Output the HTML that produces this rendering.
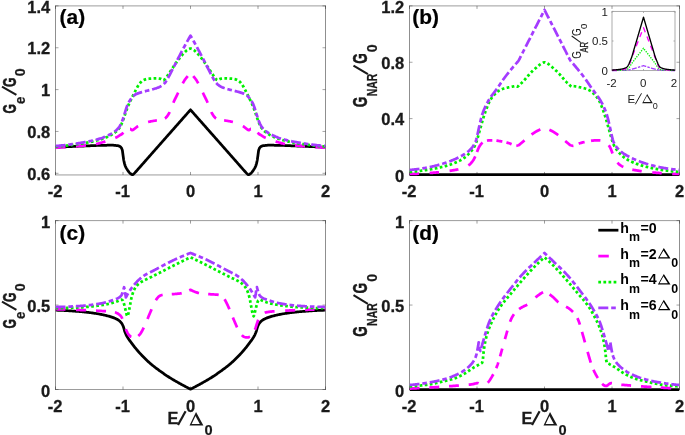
<!DOCTYPE html>
<html>
<head>
<meta charset="utf-8">
<title>Conductance spectra</title>
<style>
html,body{margin:0;padding:0;background:#ffffff;}
body{width:685px;height:435px;overflow:hidden;font-family:"Liberation Sans",sans-serif;}
svg{display:block;will-change:transform;transform:translateZ(0);}
</style>
</head>
<body>
<svg width="685" height="435" viewBox="0 0 685 435">
<rect width="685" height="435" fill="#ffffff"/>
<defs>
<clipPath id="ca"><rect x="55.5" y="5.9" width="270.0" height="170.64999999999998"/></clipPath>
<clipPath id="cb"><rect x="409.5" y="5.9" width="270.0" height="170.64999999999998"/></clipPath>
<clipPath id="cc"><rect x="55.5" y="220.6" width="270.0" height="170.5"/></clipPath>
<clipPath id="cd"><rect x="409.5" y="220.6" width="270.0" height="170.5"/></clipPath>
</defs>
<g stroke="#262626" fill="none">
<path d="M55.5,5.65 V175.2 M325.5,5.65 V175.2" stroke-width="0.52"/>
<path d="M55.25,5.9 H325.75 M55.25,174.95 H325.75" stroke-width="0.46"/>
<path d="M55.5,174.95 v-3.0 M55.5,5.9 v3.0" stroke-width="0.45"/>
<path d="M123.0,174.95 v-3.0 M123.0,5.9 v3.0" stroke-width="0.45"/>
<path d="M190.5,174.95 v-3.0 M190.5,5.9 v3.0" stroke-width="0.45"/>
<path d="M258.0,174.95 v-3.0 M258.0,5.9 v3.0" stroke-width="0.45"/>
<path d="M325.5,174.95 v-3.0 M325.5,5.9 v3.0" stroke-width="0.45"/>
<path d="M55.5,173.30 h3.0 M325.5,173.30 h-3.0" stroke-width="0.42"/>
<path d="M55.5,131.45 h3.0 M325.5,131.45 h-3.0" stroke-width="0.42"/>
<path d="M55.5,89.60 h3.0 M325.5,89.60 h-3.0" stroke-width="0.42"/>
<path d="M55.5,47.75 h3.0 M325.5,47.75 h-3.0" stroke-width="0.42"/>
<path d="M55.5,5.90 h3.0 M325.5,5.90 h-3.0" stroke-width="0.42"/>
</g>
<g stroke="#262626" fill="none">
<path d="M409.5,5.65 V175.2 M679.5,5.65 V175.2" stroke-width="0.52"/>
<path d="M409.25,5.9 H679.75 M409.25,174.95 H679.75" stroke-width="0.46"/>
<path d="M409.5,174.95 v-3.0 M409.5,5.9 v3.0" stroke-width="0.45"/>
<path d="M477.0,174.95 v-3.0 M477.0,5.9 v3.0" stroke-width="0.45"/>
<path d="M544.5,174.95 v-3.0 M544.5,5.9 v3.0" stroke-width="0.45"/>
<path d="M612.0,174.95 v-3.0 M612.0,5.9 v3.0" stroke-width="0.45"/>
<path d="M679.5,174.95 v-3.0 M679.5,5.9 v3.0" stroke-width="0.45"/>
<path d="M409.5,174.95 h3.0 M679.5,174.95 h-3.0" stroke-width="0.42"/>
<path d="M409.5,118.60 h3.0 M679.5,118.60 h-3.0" stroke-width="0.42"/>
<path d="M409.5,62.25 h3.0 M679.5,62.25 h-3.0" stroke-width="0.42"/>
<path d="M409.5,5.90 h3.0 M679.5,5.90 h-3.0" stroke-width="0.42"/>
</g>
<g stroke="#262626" fill="none">
<path d="M55.5,220.35 V389.75 M325.5,220.35 V389.75" stroke-width="0.52"/>
<path d="M55.25,220.6 H325.75 M55.25,389.5 H325.75" stroke-width="0.46"/>
<path d="M55.5,389.5 v-3.0 M55.5,220.6 v3.0" stroke-width="0.45"/>
<path d="M123.0,389.5 v-3.0 M123.0,220.6 v3.0" stroke-width="0.45"/>
<path d="M190.5,389.5 v-3.0 M190.5,220.6 v3.0" stroke-width="0.45"/>
<path d="M258.0,389.5 v-3.0 M258.0,220.6 v3.0" stroke-width="0.45"/>
<path d="M325.5,389.5 v-3.0 M325.5,220.6 v3.0" stroke-width="0.45"/>
<path d="M55.5,389.50 h3.0 M325.5,389.50 h-3.0" stroke-width="0.42"/>
<path d="M55.5,305.05 h3.0 M325.5,305.05 h-3.0" stroke-width="0.42"/>
<path d="M55.5,220.60 h3.0 M325.5,220.60 h-3.0" stroke-width="0.42"/>
</g>
<g stroke="#262626" fill="none">
<path d="M409.5,220.35 V389.75 M679.5,220.35 V389.75" stroke-width="0.52"/>
<path d="M409.25,220.6 H679.75 M409.25,389.5 H679.75" stroke-width="0.46"/>
<path d="M409.5,389.5 v-3.0 M409.5,220.6 v3.0" stroke-width="0.45"/>
<path d="M477.0,389.5 v-3.0 M477.0,220.6 v3.0" stroke-width="0.45"/>
<path d="M544.5,389.5 v-3.0 M544.5,220.6 v3.0" stroke-width="0.45"/>
<path d="M612.0,389.5 v-3.0 M612.0,220.6 v3.0" stroke-width="0.45"/>
<path d="M679.5,389.5 v-3.0 M679.5,220.6 v3.0" stroke-width="0.45"/>
<path d="M409.5,389.50 h3.0 M679.5,389.50 h-3.0" stroke-width="0.42"/>
<path d="M409.5,305.05 h3.0 M679.5,305.05 h-3.0" stroke-width="0.42"/>
<path d="M409.5,220.60 h3.0 M679.5,220.60 h-3.0" stroke-width="0.42"/>
</g>
<g clip-path="url(#ca)">
<path d="M55.50,147.20 L56.25,147.17 L57.00,147.14 L57.75,147.11 L58.50,147.08 L59.25,147.05 L60.00,147.01 L60.75,146.98 L61.50,146.95 L62.25,146.92 L63.00,146.89 L63.75,146.86 L64.50,146.83 L65.25,146.80 L66.00,146.77 L66.75,146.74 L67.50,146.71 L68.25,146.68 L69.00,146.65 L69.75,146.62 L70.50,146.59 L71.25,146.55 L72.00,146.52 L72.75,146.49 L73.50,146.46 L74.25,146.43 L75.00,146.40 L75.75,146.37 L76.50,146.34 L77.25,146.31 L78.00,146.28 L78.75,146.25 L79.50,146.22 L80.00,146.20 L80.25,146.19 L81.00,146.16 L81.75,146.13 L82.50,146.09 L83.25,146.06 L84.00,146.03 L84.75,145.99 L85.50,145.96 L86.25,145.93 L87.00,145.89 L87.75,145.86 L88.50,145.82 L89.25,145.79 L90.00,145.76 L90.75,145.72 L91.50,145.69 L92.25,145.66 L93.00,145.63 L93.75,145.60 L94.50,145.57 L95.25,145.54 L96.00,145.52 L96.75,145.49 L97.50,145.47 L98.25,145.44 L99.00,145.42 L99.75,145.41 L100.00,145.40 L100.50,145.39 L101.25,145.37 L102.00,145.35 L102.75,145.34 L103.50,145.32 L104.25,145.30 L105.00,145.29 L105.75,145.27 L106.50,145.26 L107.25,145.24 L108.00,145.23 L108.75,145.22 L109.50,145.21 L110.25,145.21 L111.00,145.20 L111.75,145.20 L112.00,145.20 L112.50,145.21 L113.25,145.23 L114.00,145.28 L114.75,145.34 L115.50,145.42 L116.25,145.51 L117.00,145.60 L117.75,145.71 L118.50,145.88 L119.25,146.11 L119.50,146.20 L120.00,146.47 L120.75,147.13 L121.30,147.80 L121.50,148.10 L122.25,149.95 L122.40,150.50 L123.00,155.00 L123.70,160.00 L123.75,160.26 L124.50,163.66 L125.00,165.30 L125.25,165.95 L126.00,167.58 L126.75,168.89 L127.00,169.30 L127.50,170.09 L128.25,171.19 L129.00,172.15 L129.50,172.70 L129.75,172.95 L130.50,173.66 L131.25,174.22 L131.40,174.30 L132.00,174.61 L132.40,174.70 L132.75,174.61 L133.50,174.07 L133.60,174.00 L134.25,173.44 L135.00,172.63 L135.75,171.78 L136.00,171.50 L136.50,170.96 L137.25,170.12 L138.00,169.28 L138.75,168.42 L139.50,167.57 L140.00,167.00 L140.25,166.72 L141.00,165.87 L141.75,165.02 L142.50,164.17 L143.25,163.32 L144.00,162.47 L144.75,161.61 L145.50,160.76 L146.25,159.91 L147.00,159.06 L147.75,158.20 L148.50,157.35 L149.25,156.50 L150.00,155.65 L150.75,154.80 L151.50,153.95 L152.25,153.10 L153.00,152.25 L153.75,151.40 L154.50,150.55 L155.25,149.70 L156.00,148.85 L156.75,148.00 L157.50,147.15 L158.25,146.30 L159.00,145.45 L159.75,144.60 L160.50,143.75 L161.25,142.91 L162.00,142.06 L162.75,141.21 L163.50,140.36 L164.25,139.51 L165.00,138.66 L165.75,137.81 L166.50,136.96 L167.25,136.11 L168.00,135.26 L168.75,134.42 L169.50,133.57 L170.00,133.00 L170.25,132.72 L171.00,131.87 L171.75,131.02 L172.50,130.17 L173.25,129.32 L174.00,128.47 L174.75,127.62 L175.50,126.77 L176.25,125.93 L177.00,125.08 L177.75,124.23 L178.50,123.38 L179.25,122.53 L180.00,121.68 L180.75,120.83 L181.50,119.98 L182.25,119.13 L183.00,118.29 L183.75,117.44 L184.50,116.59 L185.25,115.74 L186.00,114.89 L186.75,114.04 L187.50,113.19 L188.25,112.35 L189.00,111.50 L189.75,110.65 L190.50,109.80 L191.25,110.65 L192.00,111.50 L192.75,112.35 L193.50,113.19 L194.25,114.04 L195.00,114.89 L195.75,115.74 L196.50,116.59 L197.25,117.44 L198.00,118.29 L198.75,119.13 L199.50,119.98 L200.25,120.83 L201.00,121.68 L201.75,122.53 L202.50,123.38 L203.25,124.23 L204.00,125.08 L204.75,125.93 L205.50,126.77 L206.25,127.62 L207.00,128.47 L207.75,129.32 L208.50,130.17 L209.25,131.02 L210.00,131.87 L210.75,132.72 L211.00,133.00 L211.50,133.57 L212.25,134.42 L213.00,135.26 L213.75,136.11 L214.50,136.96 L215.25,137.81 L216.00,138.66 L216.75,139.51 L217.50,140.36 L218.25,141.21 L219.00,142.06 L219.75,142.91 L220.50,143.75 L221.25,144.60 L222.00,145.45 L222.75,146.30 L223.50,147.15 L224.25,148.00 L225.00,148.85 L225.75,149.70 L226.50,150.55 L227.25,151.40 L228.00,152.25 L228.75,153.10 L229.50,153.95 L230.25,154.80 L231.00,155.65 L231.75,156.50 L232.50,157.35 L233.25,158.20 L234.00,159.06 L234.75,159.91 L235.50,160.76 L236.25,161.61 L237.00,162.47 L237.75,163.32 L238.50,164.17 L239.25,165.02 L240.00,165.87 L240.75,166.72 L241.00,167.00 L241.50,167.57 L242.25,168.42 L243.00,169.28 L243.75,170.12 L244.50,170.96 L245.00,171.50 L245.25,171.78 L246.00,172.63 L246.75,173.44 L247.40,174.00 L247.50,174.07 L248.25,174.61 L248.60,174.70 L249.00,174.61 L249.60,174.30 L249.75,174.22 L250.50,173.66 L251.25,172.95 L251.50,172.70 L252.00,172.15 L252.75,171.19 L253.50,170.09 L254.00,169.30 L254.25,168.89 L255.00,167.58 L255.75,165.95 L256.00,165.30 L256.50,163.66 L257.25,160.26 L257.30,160.00 L258.00,155.00 L258.60,150.50 L258.75,149.95 L259.50,148.10 L259.70,147.80 L260.25,147.13 L261.00,146.47 L261.50,146.20 L261.75,146.11 L262.50,145.88 L263.25,145.71 L264.00,145.60 L264.75,145.51 L265.50,145.42 L266.25,145.34 L267.00,145.28 L267.75,145.23 L268.50,145.21 L269.00,145.20 L269.25,145.20 L270.00,145.20 L270.75,145.21 L271.50,145.21 L272.25,145.22 L273.00,145.23 L273.75,145.24 L274.50,145.26 L275.25,145.27 L276.00,145.29 L276.75,145.30 L277.50,145.32 L278.25,145.34 L279.00,145.35 L279.75,145.37 L280.50,145.39 L281.00,145.40 L281.25,145.41 L282.00,145.42 L282.75,145.44 L283.50,145.47 L284.25,145.49 L285.00,145.52 L285.75,145.54 L286.50,145.57 L287.25,145.60 L288.00,145.63 L288.75,145.66 L289.50,145.69 L290.25,145.72 L291.00,145.76 L291.75,145.79 L292.50,145.82 L293.25,145.86 L294.00,145.89 L294.75,145.93 L295.50,145.96 L296.25,145.99 L297.00,146.03 L297.75,146.06 L298.50,146.09 L299.25,146.13 L300.00,146.16 L300.75,146.19 L301.00,146.20 L301.50,146.22 L302.25,146.25 L303.00,146.28 L303.75,146.31 L304.50,146.34 L305.25,146.37 L306.00,146.40 L306.75,146.43 L307.50,146.46 L308.25,146.49 L309.00,146.52 L309.75,146.55 L310.50,146.59 L311.25,146.62 L312.00,146.65 L312.75,146.68 L313.50,146.71 L314.25,146.74 L315.00,146.77 L315.75,146.80 L316.50,146.83 L317.25,146.86 L318.00,146.89 L318.75,146.92 L319.50,146.95 L320.25,146.98 L321.00,147.01 L321.75,147.05 L322.50,147.08 L323.25,147.11 L324.00,147.14 L324.75,147.17 L325.50,147.20" fill="none" stroke="#000000" stroke-width="2.75" stroke-linejoin="round" />
<path d="M55.50,147.60 L56.25,147.57 L57.00,147.54 L57.75,147.50 L58.50,147.47 L59.25,147.43 L60.00,147.39 L60.75,147.35 L61.50,147.31 L62.25,147.27 L63.00,147.23 L63.75,147.18 L64.50,147.14 L65.25,147.09 L66.00,147.04 L66.75,146.99 L67.50,146.94 L68.25,146.89 L69.00,146.84 L69.75,146.79 L70.50,146.74 L71.25,146.68 L72.00,146.63 L72.75,146.57 L73.50,146.51 L74.25,146.46 L75.00,146.40 L75.75,146.34 L76.50,146.28 L77.25,146.22 L78.00,146.16 L78.75,146.09 L79.50,146.02 L80.25,145.96 L81.00,145.89 L81.75,145.81 L82.50,145.74 L83.25,145.67 L84.00,145.59 L84.75,145.51 L85.50,145.43 L86.25,145.35 L87.00,145.26 L87.75,145.17 L88.50,145.08 L89.25,144.99 L90.00,144.90 L90.75,144.80 L91.50,144.70 L92.25,144.60 L93.00,144.49 L93.75,144.38 L94.50,144.25 L95.25,144.13 L96.00,143.99 L96.75,143.85 L97.00,143.80 L97.50,143.70 L98.25,143.53 L99.00,143.34 L99.75,143.14 L100.50,142.93 L101.25,142.72 L102.00,142.49 L102.75,142.27 L103.50,142.05 L104.00,141.90 L104.25,141.83 L105.00,141.60 L105.75,141.38 L106.50,141.15 L107.25,140.92 L108.00,140.68 L108.75,140.43 L109.50,140.17 L110.00,140.00 L110.25,139.91 L111.00,139.64 L111.75,139.37 L112.50,139.09 L113.25,138.80 L114.00,138.50 L114.75,138.18 L115.50,137.84 L116.00,137.60 L116.25,137.48 L117.00,137.07 L117.75,136.63 L118.50,136.16 L119.25,135.68 L120.00,135.20 L120.75,134.73 L121.50,134.25 L122.25,133.74 L123.00,133.20 L123.75,132.59 L124.50,131.91 L125.25,131.23 L126.00,130.60 L126.75,129.93 L127.50,129.27 L128.25,128.91 L128.40,128.90 L129.00,128.90 L129.75,128.90 L130.20,128.90 L130.50,128.97 L131.25,129.54 L132.00,130.07 L132.20,130.10 L132.75,129.97 L133.50,129.53 L134.00,129.20 L134.25,129.04 L135.00,128.44 L135.75,127.80 L136.00,127.60 L136.50,127.21 L137.25,126.62 L138.00,126.10 L138.75,125.65 L139.50,125.23 L140.25,124.83 L141.00,124.46 L141.75,124.12 L142.50,123.80 L143.00,123.60 L143.25,123.50 L144.00,123.22 L144.75,122.96 L145.50,122.71 L146.25,122.47 L147.00,122.26 L147.75,122.06 L148.00,122.00 L148.50,121.88 L149.25,121.72 L150.00,121.56 L150.75,121.41 L151.50,121.27 L152.25,121.14 L153.00,121.01 L153.75,120.88 L154.50,120.76 L155.25,120.63 L156.00,120.50 L156.75,120.37 L157.50,120.26 L158.25,120.15 L159.00,120.04 L159.75,119.92 L160.50,119.80 L161.25,119.66 L162.00,119.50 L162.75,119.32 L163.50,119.10 L164.25,118.81 L164.50,118.70 L165.00,118.41 L165.75,117.81 L166.50,117.06 L167.00,116.50 L167.25,116.19 L168.00,115.09 L168.75,113.77 L169.50,112.30 L170.25,110.58 L171.00,108.61 L171.75,106.62 L172.00,106.00 L172.50,104.79 L173.25,103.01 L174.00,101.30 L174.75,99.67 L175.50,98.10 L176.25,96.56 L177.00,95.04 L177.75,93.51 L178.00,93.00 L178.50,91.96 L179.25,90.38 L180.00,88.80 L180.75,87.25 L181.50,85.76 L182.00,84.80 L182.25,84.33 L183.00,82.95 L183.75,81.61 L184.50,80.36 L185.00,79.60 L185.25,79.24 L186.00,78.23 L186.75,77.29 L187.50,76.39 L188.00,75.80 L188.25,75.51 L189.00,74.64 L189.75,73.81 L190.50,73.00 L191.25,73.81 L192.00,74.64 L192.75,75.51 L193.00,75.80 L193.50,76.39 L194.25,77.29 L195.00,78.23 L195.75,79.24 L196.00,79.60 L196.50,80.36 L197.25,81.61 L198.00,82.95 L198.75,84.33 L199.00,84.80 L199.50,85.76 L200.25,87.25 L201.00,88.80 L201.75,90.38 L202.50,91.96 L203.00,93.00 L203.25,93.51 L204.00,95.04 L204.75,96.56 L205.50,98.10 L206.25,99.67 L207.00,101.30 L207.75,103.01 L208.50,104.79 L209.00,106.00 L209.25,106.62 L210.00,108.61 L210.75,110.58 L211.50,112.30 L212.25,113.77 L213.00,115.09 L213.75,116.19 L214.00,116.50 L214.50,117.06 L215.25,117.81 L216.00,118.41 L216.50,118.70 L216.75,118.81 L217.50,119.10 L218.25,119.32 L219.00,119.50 L219.75,119.66 L220.50,119.80 L221.25,119.92 L222.00,120.04 L222.75,120.15 L223.50,120.26 L224.25,120.37 L225.00,120.50 L225.75,120.63 L226.50,120.76 L227.25,120.88 L228.00,121.01 L228.75,121.14 L229.50,121.27 L230.25,121.41 L231.00,121.56 L231.75,121.72 L232.50,121.88 L233.00,122.00 L233.25,122.06 L234.00,122.26 L234.75,122.47 L235.50,122.71 L236.25,122.96 L237.00,123.22 L237.75,123.50 L238.00,123.60 L238.50,123.80 L239.25,124.12 L240.00,124.46 L240.75,124.83 L241.50,125.23 L242.25,125.65 L243.00,126.10 L243.75,126.62 L244.50,127.21 L245.00,127.60 L245.25,127.80 L246.00,128.44 L246.75,129.04 L247.00,129.20 L247.50,129.53 L248.25,129.97 L248.80,130.10 L249.00,130.07 L249.75,129.54 L250.50,128.97 L250.80,128.90 L251.25,128.90 L252.00,128.90 L252.60,128.90 L252.75,128.91 L253.50,129.27 L254.25,129.93 L255.00,130.60 L255.75,131.23 L256.50,131.91 L257.25,132.59 L258.00,133.20 L258.75,133.74 L259.50,134.25 L260.25,134.73 L261.00,135.20 L261.75,135.68 L262.50,136.16 L263.25,136.63 L264.00,137.07 L264.75,137.48 L265.00,137.60 L265.50,137.84 L266.25,138.18 L267.00,138.50 L267.75,138.80 L268.50,139.09 L269.25,139.37 L270.00,139.64 L270.75,139.91 L271.00,140.00 L271.50,140.17 L272.25,140.43 L273.00,140.68 L273.75,140.92 L274.50,141.15 L275.25,141.38 L276.00,141.60 L276.75,141.83 L277.00,141.90 L277.50,142.05 L278.25,142.27 L279.00,142.49 L279.75,142.72 L280.50,142.93 L281.25,143.14 L282.00,143.34 L282.75,143.53 L283.50,143.70 L284.00,143.80 L284.25,143.85 L285.00,143.99 L285.75,144.13 L286.50,144.25 L287.25,144.38 L288.00,144.49 L288.75,144.60 L289.50,144.70 L290.25,144.80 L291.00,144.90 L291.75,144.99 L292.50,145.08 L293.25,145.17 L294.00,145.26 L294.75,145.35 L295.50,145.43 L296.25,145.51 L297.00,145.59 L297.75,145.67 L298.50,145.74 L299.25,145.81 L300.00,145.89 L300.75,145.96 L301.50,146.02 L302.25,146.09 L303.00,146.16 L303.75,146.22 L304.50,146.28 L305.25,146.34 L306.00,146.40 L306.75,146.46 L307.50,146.51 L308.25,146.57 L309.00,146.63 L309.75,146.68 L310.50,146.74 L311.25,146.79 L312.00,146.84 L312.75,146.89 L313.50,146.94 L314.25,146.99 L315.00,147.04 L315.75,147.09 L316.50,147.14 L317.25,147.18 L318.00,147.23 L318.75,147.27 L319.50,147.31 L320.25,147.35 L321.00,147.39 L321.75,147.43 L322.50,147.47 L323.25,147.50 L324.00,147.54 L324.75,147.57 L325.50,147.60" fill="none" stroke="#FF00FF" stroke-width="2.75" stroke-dasharray="10.01 10.53 10.05 10.10 9.73 10.53 9.69 7.91 9.78 10.84 8.95 8.30 8.13 9.88 11.25 10.38 8.88 8.13 8.88 10.38 11.25 9.88 8.13 8.30 8.95 10.84 9.78 7.91 9.69 10.53 9.73 10.10 10.05 10.53 10.01 2000.00" stroke-linejoin="round" />
<path d="M55.50,146.60 L56.25,146.55 L57.00,146.50 L57.75,146.45 L58.50,146.39 L59.25,146.33 L60.00,146.27 L60.75,146.20 L61.50,146.13 L62.25,146.06 L63.00,145.99 L63.75,145.91 L64.50,145.83 L65.25,145.75 L66.00,145.67 L66.75,145.59 L67.50,145.50 L68.25,145.41 L69.00,145.32 L69.75,145.22 L70.50,145.13 L71.25,145.03 L72.00,144.93 L72.75,144.83 L73.50,144.73 L74.25,144.63 L75.00,144.53 L75.75,144.42 L76.50,144.31 L77.25,144.21 L78.00,144.10 L78.75,143.99 L79.50,143.87 L80.00,143.80 L80.25,143.76 L81.00,143.65 L81.75,143.53 L82.50,143.41 L83.25,143.29 L84.00,143.16 L84.75,143.03 L85.50,142.90 L86.25,142.77 L87.00,142.63 L87.75,142.49 L88.50,142.34 L89.25,142.19 L90.00,142.04 L90.75,141.88 L91.50,141.72 L92.25,141.56 L93.00,141.39 L93.75,141.22 L94.50,141.04 L95.25,140.86 L96.00,140.67 L96.75,140.48 L97.50,140.29 L98.25,140.09 L99.00,139.88 L99.75,139.67 L100.00,139.60 L100.50,139.45 L101.25,139.22 L102.00,138.98 L102.75,138.73 L103.50,138.46 L104.25,138.18 L105.00,137.88 L105.75,137.57 L106.50,137.25 L107.25,136.92 L108.00,136.58 L108.75,136.22 L109.50,135.85 L110.00,135.60 L110.25,135.47 L111.00,135.07 L111.75,134.63 L112.50,134.17 L113.25,133.68 L114.00,133.16 L114.75,132.60 L115.50,132.01 L116.00,131.60 L116.25,131.39 L117.00,130.71 L117.75,129.95 L118.50,129.10 L119.20,128.20 L119.25,128.13 L120.00,126.97 L120.75,125.59 L121.50,124.05 L122.20,122.50 L122.25,122.39 L123.00,120.46 L123.75,118.31 L124.20,117.00 L124.50,116.12 L125.25,113.83 L126.00,111.57 L126.20,111.00 L126.75,109.48 L127.50,107.50 L128.10,106.00 L128.25,105.64 L129.00,103.86 L129.75,102.18 L130.30,101.00 L130.50,100.58 L131.25,99.10 L132.00,97.67 L132.60,96.50 L132.75,96.20 L133.50,94.66 L134.25,93.11 L135.00,91.59 L135.30,91.00 L135.75,90.12 L136.50,88.67 L137.25,87.27 L138.00,86.00 L138.75,84.87 L139.50,83.84 L140.00,83.20 L140.25,82.89 L141.00,81.97 L141.75,81.20 L142.00,81.00 L142.50,80.66 L143.25,80.24 L144.00,79.89 L144.50,79.70 L144.75,79.61 L145.50,79.36 L146.25,79.15 L147.00,79.00 L147.75,78.89 L148.50,78.79 L149.25,78.70 L150.00,78.63 L150.75,78.57 L151.50,78.52 L152.00,78.50 L152.25,78.49 L153.00,78.47 L153.75,78.45 L154.50,78.43 L155.25,78.41 L156.00,78.41 L156.75,78.40 L157.00,78.40 L157.50,78.41 L158.25,78.46 L159.00,78.55 L159.75,78.66 L160.50,78.80 L161.25,79.04 L162.00,79.40 L162.40,79.60 L162.75,79.82 L163.50,80.20 L164.25,79.86 L164.80,79.40 L165.00,79.22 L165.75,78.27 L166.30,77.50 L166.50,77.22 L167.25,76.13 L168.00,75.00 L168.75,73.88 L169.50,72.76 L170.25,71.63 L171.00,70.50 L171.75,69.38 L172.00,69.00 L172.50,68.25 L173.25,67.10 L174.00,65.96 L174.75,64.83 L175.50,63.72 L176.00,63.00 L176.25,62.65 L177.00,61.59 L177.75,60.55 L178.50,59.54 L179.25,58.55 L180.00,57.60 L180.75,56.68 L181.50,55.77 L182.25,54.90 L183.00,54.06 L183.75,53.26 L184.00,53.00 L184.50,52.48 L185.25,51.70 L186.00,50.96 L186.75,50.30 L187.50,49.80 L188.25,49.38 L189.00,48.99 L189.75,48.71 L190.50,48.60 L191.25,48.71 L192.00,48.99 L192.75,49.38 L193.50,49.80 L194.25,50.30 L195.00,50.96 L195.75,51.70 L196.50,52.48 L197.00,53.00 L197.25,53.26 L198.00,54.06 L198.75,54.90 L199.50,55.77 L200.25,56.68 L201.00,57.60 L201.75,58.55 L202.50,59.54 L203.25,60.55 L204.00,61.59 L204.75,62.65 L205.00,63.00 L205.50,63.72 L206.25,64.83 L207.00,65.96 L207.75,67.10 L208.50,68.25 L209.00,69.00 L209.25,69.38 L210.00,70.50 L210.75,71.63 L211.50,72.76 L212.25,73.88 L213.00,75.00 L213.75,76.13 L214.50,77.22 L214.70,77.50 L215.25,78.27 L216.00,79.22 L216.20,79.40 L216.75,79.86 L217.50,80.20 L218.25,79.82 L218.60,79.60 L219.00,79.40 L219.75,79.04 L220.50,78.80 L221.25,78.66 L222.00,78.55 L222.75,78.46 L223.50,78.41 L224.00,78.40 L224.25,78.40 L225.00,78.41 L225.75,78.41 L226.50,78.43 L227.25,78.45 L228.00,78.47 L228.75,78.49 L229.00,78.50 L229.50,78.52 L230.25,78.57 L231.00,78.63 L231.75,78.70 L232.50,78.79 L233.25,78.89 L234.00,79.00 L234.75,79.15 L235.50,79.36 L236.25,79.61 L236.50,79.70 L237.00,79.89 L237.75,80.24 L238.50,80.66 L239.00,81.00 L239.25,81.20 L240.00,81.97 L240.75,82.89 L241.00,83.20 L241.50,83.84 L242.25,84.87 L243.00,86.00 L243.75,87.27 L244.50,88.67 L245.25,90.12 L245.70,91.00 L246.00,91.59 L246.75,93.11 L247.50,94.66 L248.25,96.20 L248.40,96.50 L249.00,97.67 L249.75,99.10 L250.50,100.58 L250.70,101.00 L251.25,102.18 L252.00,103.86 L252.75,105.64 L252.90,106.00 L253.50,107.50 L254.25,109.48 L254.80,111.00 L255.00,111.57 L255.75,113.83 L256.50,116.12 L256.80,117.00 L257.25,118.31 L258.00,120.46 L258.75,122.39 L258.80,122.50 L259.50,124.05 L260.25,125.59 L261.00,126.97 L261.75,128.13 L261.80,128.20 L262.50,129.10 L263.25,129.95 L264.00,130.71 L264.75,131.39 L265.00,131.60 L265.50,132.01 L266.25,132.60 L267.00,133.16 L267.75,133.68 L268.50,134.17 L269.25,134.63 L270.00,135.07 L270.75,135.47 L271.00,135.60 L271.50,135.85 L272.25,136.22 L273.00,136.58 L273.75,136.92 L274.50,137.25 L275.25,137.57 L276.00,137.88 L276.75,138.18 L277.50,138.46 L278.25,138.73 L279.00,138.98 L279.75,139.22 L280.50,139.45 L281.00,139.60 L281.25,139.67 L282.00,139.88 L282.75,140.09 L283.50,140.29 L284.25,140.48 L285.00,140.67 L285.75,140.86 L286.50,141.04 L287.25,141.22 L288.00,141.39 L288.75,141.56 L289.50,141.72 L290.25,141.88 L291.00,142.04 L291.75,142.19 L292.50,142.34 L293.25,142.49 L294.00,142.63 L294.75,142.77 L295.50,142.90 L296.25,143.03 L297.00,143.16 L297.75,143.29 L298.50,143.41 L299.25,143.53 L300.00,143.65 L300.75,143.76 L301.00,143.80 L301.50,143.87 L302.25,143.99 L303.00,144.10 L303.75,144.21 L304.50,144.31 L305.25,144.42 L306.00,144.53 L306.75,144.63 L307.50,144.73 L308.25,144.83 L309.00,144.93 L309.75,145.03 L310.50,145.13 L311.25,145.22 L312.00,145.32 L312.75,145.41 L313.50,145.50 L314.25,145.59 L315.00,145.67 L315.75,145.75 L316.50,145.83 L317.25,145.91 L318.00,145.99 L318.75,146.06 L319.50,146.13 L320.25,146.20 L321.00,146.27 L321.75,146.33 L322.50,146.39 L323.25,146.45 L324.00,146.50 L324.75,146.55 L325.50,146.60" fill="none" stroke="#00F000" stroke-width="2.75" stroke-dasharray="2.7 2.4" stroke-linejoin="round" />
<path d="M55.50,146.00 L56.25,145.95 L57.00,145.89 L57.75,145.83 L58.50,145.77 L59.25,145.70 L60.00,145.63 L60.75,145.56 L61.50,145.49 L62.25,145.41 L63.00,145.33 L63.75,145.25 L64.50,145.17 L65.25,145.08 L66.00,144.99 L66.75,144.90 L67.50,144.81 L68.25,144.71 L69.00,144.61 L69.75,144.52 L70.50,144.41 L71.25,144.31 L72.00,144.21 L72.75,144.10 L73.50,143.99 L74.25,143.88 L75.00,143.77 L75.75,143.66 L76.50,143.55 L77.25,143.43 L78.00,143.31 L78.75,143.20 L79.50,143.08 L80.00,143.00 L80.25,142.96 L81.00,142.84 L81.75,142.72 L82.50,142.59 L83.25,142.46 L84.00,142.33 L84.75,142.19 L85.50,142.05 L86.25,141.91 L87.00,141.77 L87.75,141.62 L88.50,141.47 L89.25,141.31 L90.00,141.15 L90.75,140.99 L91.50,140.82 L92.25,140.65 L93.00,140.47 L93.75,140.29 L94.50,140.11 L95.25,139.92 L96.00,139.72 L96.75,139.52 L97.50,139.32 L98.25,139.11 L99.00,138.89 L99.75,138.67 L100.00,138.60 L100.50,138.45 L101.25,138.20 L102.00,137.95 L102.75,137.67 L103.50,137.39 L104.25,137.09 L105.00,136.78 L105.75,136.45 L106.50,136.11 L107.25,135.77 L108.00,135.41 L108.75,135.04 L109.50,134.66 L110.00,134.40 L110.25,134.27 L111.00,133.87 L111.75,133.44 L112.50,133.00 L113.25,132.53 L114.00,132.02 L114.75,131.49 L115.50,130.91 L116.00,130.50 L116.25,130.29 L117.00,129.60 L117.75,128.82 L118.50,127.94 L119.20,127.00 L119.25,126.93 L120.00,125.72 L120.75,124.28 L121.50,122.65 L122.20,121.00 L122.25,120.88 L123.00,118.79 L123.75,116.43 L124.20,115.00 L124.50,114.04 L125.25,111.53 L126.00,109.10 L126.20,108.50 L126.75,106.91 L127.50,104.88 L128.10,103.50 L128.25,103.20 L129.00,101.85 L129.75,100.67 L130.00,100.30 L130.50,99.57 L131.25,98.53 L132.00,97.58 L132.70,96.80 L132.75,96.75 L133.50,96.00 L134.25,95.32 L135.00,94.75 L135.40,94.50 L135.75,94.31 L136.50,93.94 L137.25,93.63 L138.00,93.35 L138.75,93.09 L139.00,93.00 L139.50,92.83 L140.25,92.59 L141.00,92.36 L141.75,92.14 L142.50,91.93 L143.25,91.73 L144.00,91.53 L144.75,91.33 L145.50,91.13 L146.00,91.00 L146.25,90.93 L147.00,90.74 L147.75,90.56 L148.50,90.38 L149.25,90.20 L150.00,90.02 L150.75,89.83 L151.50,89.64 L152.00,89.50 L152.25,89.43 L153.00,89.22 L153.75,89.01 L154.50,88.79 L155.25,88.56 L156.00,88.33 L156.75,88.07 L157.50,87.80 L158.00,87.60 L158.25,87.50 L159.00,87.17 L159.75,86.81 L160.50,86.42 L161.25,85.98 L162.00,85.50 L162.75,84.96 L163.50,84.33 L164.25,83.61 L165.00,82.80 L165.75,81.81 L166.50,80.62 L167.25,79.32 L168.00,78.00 L168.75,76.67 L169.50,75.29 L170.25,73.86 L171.00,72.40 L171.75,70.92 L172.50,69.44 L173.25,67.96 L174.00,66.50 L174.75,65.05 L175.50,63.59 L176.25,62.12 L177.00,60.66 L177.75,59.19 L178.50,57.72 L179.25,56.26 L180.00,54.81 L180.75,53.37 L181.50,51.94 L182.00,51.00 L182.25,50.53 L183.00,49.13 L183.75,47.74 L184.50,46.36 L185.25,44.99 L186.00,43.62 L186.75,42.26 L187.50,40.91 L188.25,39.57 L189.00,38.24 L189.75,36.91 L190.50,35.60 L191.25,36.91 L192.00,38.24 L192.75,39.57 L193.50,40.91 L194.25,42.26 L195.00,43.62 L195.75,44.99 L196.50,46.36 L197.25,47.74 L198.00,49.13 L198.75,50.53 L199.00,51.00 L199.50,51.94 L200.25,53.37 L201.00,54.81 L201.75,56.26 L202.50,57.72 L203.25,59.19 L204.00,60.66 L204.75,62.12 L205.50,63.59 L206.25,65.05 L207.00,66.50 L207.75,67.96 L208.50,69.44 L209.25,70.92 L210.00,72.40 L210.75,73.86 L211.50,75.29 L212.25,76.67 L213.00,78.00 L213.75,79.32 L214.50,80.62 L215.25,81.81 L216.00,82.80 L216.75,83.61 L217.50,84.33 L218.25,84.96 L219.00,85.50 L219.75,85.98 L220.50,86.42 L221.25,86.81 L222.00,87.17 L222.75,87.50 L223.00,87.60 L223.50,87.80 L224.25,88.07 L225.00,88.33 L225.75,88.56 L226.50,88.79 L227.25,89.01 L228.00,89.22 L228.75,89.43 L229.00,89.50 L229.50,89.64 L230.25,89.83 L231.00,90.02 L231.75,90.20 L232.50,90.38 L233.25,90.56 L234.00,90.74 L234.75,90.93 L235.00,91.00 L235.50,91.13 L236.25,91.33 L237.00,91.53 L237.75,91.73 L238.50,91.93 L239.25,92.14 L240.00,92.36 L240.75,92.59 L241.50,92.83 L242.00,93.00 L242.25,93.09 L243.00,93.35 L243.75,93.63 L244.50,93.94 L245.25,94.31 L245.60,94.50 L246.00,94.75 L246.75,95.32 L247.50,96.00 L248.25,96.75 L248.30,96.80 L249.00,97.58 L249.75,98.53 L250.50,99.57 L251.00,100.30 L251.25,100.67 L252.00,101.85 L252.75,103.20 L252.90,103.50 L253.50,104.88 L254.25,106.91 L254.80,108.50 L255.00,109.10 L255.75,111.53 L256.50,114.04 L256.80,115.00 L257.25,116.43 L258.00,118.79 L258.75,120.88 L258.80,121.00 L259.50,122.65 L260.25,124.28 L261.00,125.72 L261.75,126.93 L261.80,127.00 L262.50,127.94 L263.25,128.82 L264.00,129.60 L264.75,130.29 L265.00,130.50 L265.50,130.91 L266.25,131.49 L267.00,132.02 L267.75,132.53 L268.50,133.00 L269.25,133.44 L270.00,133.87 L270.75,134.27 L271.00,134.40 L271.50,134.66 L272.25,135.04 L273.00,135.41 L273.75,135.77 L274.50,136.11 L275.25,136.45 L276.00,136.78 L276.75,137.09 L277.50,137.39 L278.25,137.67 L279.00,137.95 L279.75,138.20 L280.50,138.45 L281.00,138.60 L281.25,138.67 L282.00,138.89 L282.75,139.11 L283.50,139.32 L284.25,139.52 L285.00,139.72 L285.75,139.92 L286.50,140.11 L287.25,140.29 L288.00,140.47 L288.75,140.65 L289.50,140.82 L290.25,140.99 L291.00,141.15 L291.75,141.31 L292.50,141.47 L293.25,141.62 L294.00,141.77 L294.75,141.91 L295.50,142.05 L296.25,142.19 L297.00,142.33 L297.75,142.46 L298.50,142.59 L299.25,142.72 L300.00,142.84 L300.75,142.96 L301.00,143.00 L301.50,143.08 L302.25,143.20 L303.00,143.31 L303.75,143.43 L304.50,143.55 L305.25,143.66 L306.00,143.77 L306.75,143.88 L307.50,143.99 L308.25,144.10 L309.00,144.21 L309.75,144.31 L310.50,144.41 L311.25,144.52 L312.00,144.61 L312.75,144.71 L313.50,144.81 L314.25,144.90 L315.00,144.99 L315.75,145.08 L316.50,145.17 L317.25,145.25 L318.00,145.33 L318.75,145.41 L319.50,145.49 L320.25,145.56 L321.00,145.63 L321.75,145.70 L322.50,145.77 L323.25,145.83 L324.00,145.89 L324.75,145.95 L325.50,146.00" fill="none" stroke="#A43CFF" stroke-width="2.75" stroke-dasharray="10 2.9 4.6 2.9" stroke-linejoin="round" />
</g>
<g clip-path="url(#cb)">
<path d="M409.5,174.5 H679.5" stroke="#000000" stroke-width="2.75" fill="none"/>
<path d="M409.50,174.00 L410.25,173.99 L411.00,173.98 L411.75,173.96 L412.50,173.94 L413.25,173.92 L414.00,173.90 L414.75,173.87 L415.50,173.84 L416.25,173.81 L417.00,173.78 L417.75,173.75 L418.50,173.71 L419.25,173.68 L420.00,173.64 L420.75,173.60 L421.50,173.55 L422.25,173.51 L423.00,173.46 L423.75,173.42 L424.50,173.37 L425.25,173.32 L426.00,173.27 L426.75,173.22 L427.50,173.17 L428.25,173.11 L429.00,173.06 L429.75,173.00 L430.50,172.95 L431.25,172.89 L432.00,172.83 L432.75,172.78 L433.50,172.72 L434.25,172.66 L435.00,172.60 L435.75,172.54 L436.50,172.48 L437.25,172.41 L438.00,172.34 L438.75,172.27 L439.50,172.19 L440.25,172.11 L441.00,172.03 L441.75,171.95 L442.50,171.86 L443.25,171.77 L444.00,171.68 L444.75,171.58 L445.50,171.49 L446.25,171.38 L447.00,171.28 L447.75,171.17 L448.50,171.06 L449.25,170.95 L450.00,170.84 L450.75,170.72 L451.50,170.60 L452.25,170.47 L453.00,170.35 L453.75,170.22 L454.50,170.09 L455.00,170.00 L455.25,169.95 L456.00,169.81 L456.75,169.66 L457.50,169.51 L458.25,169.34 L459.00,169.16 L459.75,168.97 L460.50,168.77 L461.25,168.55 L462.00,168.33 L462.75,168.08 L463.00,168.00 L463.50,167.83 L464.25,167.54 L465.00,167.23 L465.75,166.89 L466.50,166.52 L467.25,166.11 L468.00,165.66 L468.75,165.17 L469.00,165.00 L469.50,164.62 L470.25,163.94 L471.00,163.15 L471.75,162.26 L472.50,161.30 L473.25,160.21 L474.00,158.93 L474.75,157.51 L475.00,157.00 L475.50,155.87 L476.25,153.94 L477.00,152.00 L477.75,150.09 L478.50,148.24 L479.00,147.20 L479.25,146.75 L480.00,145.53 L480.75,144.50 L481.00,144.20 L481.50,143.63 L482.25,142.88 L483.00,142.30 L483.75,141.88 L484.50,141.52 L485.25,141.23 L486.00,141.00 L486.75,140.79 L487.50,140.60 L488.25,140.46 L489.00,140.40 L489.75,140.40 L490.50,140.40 L491.25,140.40 L492.00,140.40 L492.75,140.40 L493.50,140.40 L494.00,140.40 L494.25,140.40 L495.00,140.44 L495.75,140.51 L496.50,140.61 L497.25,140.72 L498.00,140.85 L498.75,140.96 L499.00,141.00 L499.50,141.07 L500.25,141.19 L501.00,141.32 L501.75,141.45 L502.50,141.59 L503.25,141.74 L504.00,141.90 L504.75,142.06 L505.50,142.24 L506.25,142.42 L507.00,142.62 L507.75,142.82 L508.50,143.04 L509.00,143.20 L509.25,143.28 L510.00,143.56 L510.75,143.87 L511.50,144.19 L512.25,144.51 L513.00,144.80 L513.75,145.11 L514.50,145.44 L515.25,145.69 L516.00,145.80 L516.75,145.73 L517.50,145.54 L518.25,145.29 L518.50,145.20 L519.00,144.95 L519.75,144.38 L520.50,143.72 L521.00,143.30 L521.25,143.10 L522.00,142.50 L522.75,141.88 L523.50,141.25 L524.25,140.63 L525.00,140.00 L525.75,139.37 L526.50,138.73 L527.25,138.08 L528.00,137.44 L528.75,136.81 L529.50,136.19 L530.00,135.80 L530.25,135.61 L531.00,135.03 L531.75,134.45 L532.50,133.89 L533.25,133.35 L534.00,132.84 L534.75,132.35 L535.00,132.20 L535.50,131.90 L536.25,131.47 L537.00,131.06 L537.75,130.67 L538.50,130.29 L539.25,129.94 L540.00,129.60 L540.75,129.28 L541.50,128.97 L542.25,128.68 L543.00,128.40 L543.75,128.14 L544.50,127.90 L545.25,128.14 L546.00,128.40 L546.75,128.68 L547.50,128.97 L548.25,129.28 L549.00,129.60 L549.75,129.94 L550.50,130.29 L551.25,130.67 L552.00,131.06 L552.75,131.47 L553.50,131.90 L554.00,132.20 L554.25,132.35 L555.00,132.84 L555.75,133.35 L556.50,133.89 L557.25,134.45 L558.00,135.03 L558.75,135.61 L559.00,135.80 L559.50,136.19 L560.25,136.81 L561.00,137.44 L561.75,138.08 L562.50,138.73 L563.25,139.37 L564.00,140.00 L564.75,140.63 L565.50,141.25 L566.25,141.88 L567.00,142.50 L567.75,143.10 L568.00,143.30 L568.50,143.72 L569.25,144.38 L570.00,144.95 L570.50,145.20 L570.75,145.29 L571.50,145.54 L572.25,145.73 L573.00,145.80 L573.75,145.69 L574.50,145.44 L575.25,145.11 L576.00,144.80 L576.75,144.51 L577.50,144.19 L578.25,143.87 L579.00,143.56 L579.75,143.28 L580.00,143.20 L580.50,143.04 L581.25,142.82 L582.00,142.62 L582.75,142.42 L583.50,142.24 L584.25,142.06 L585.00,141.90 L585.75,141.74 L586.50,141.59 L587.25,141.45 L588.00,141.32 L588.75,141.19 L589.50,141.07 L590.00,141.00 L590.25,140.96 L591.00,140.85 L591.75,140.72 L592.50,140.61 L593.25,140.51 L594.00,140.44 L594.75,140.40 L595.00,140.40 L595.50,140.40 L596.25,140.40 L597.00,140.40 L597.75,140.40 L598.50,140.40 L599.25,140.40 L600.00,140.40 L600.75,140.46 L601.50,140.60 L602.25,140.79 L603.00,141.00 L603.75,141.23 L604.50,141.52 L605.25,141.88 L606.00,142.30 L606.75,142.88 L607.50,143.63 L608.00,144.20 L608.25,144.50 L609.00,145.53 L609.75,146.75 L610.00,147.20 L610.50,148.24 L611.25,150.09 L612.00,152.00 L612.75,153.94 L613.50,155.87 L614.00,157.00 L614.25,157.51 L615.00,158.93 L615.75,160.21 L616.50,161.30 L617.25,162.26 L618.00,163.15 L618.75,163.94 L619.50,164.62 L620.00,165.00 L620.25,165.17 L621.00,165.66 L621.75,166.11 L622.50,166.52 L623.25,166.89 L624.00,167.23 L624.75,167.54 L625.50,167.83 L626.00,168.00 L626.25,168.08 L627.00,168.33 L627.75,168.55 L628.50,168.77 L629.25,168.97 L630.00,169.16 L630.75,169.34 L631.50,169.51 L632.25,169.66 L633.00,169.81 L633.75,169.95 L634.00,170.00 L634.50,170.09 L635.25,170.22 L636.00,170.35 L636.75,170.47 L637.50,170.60 L638.25,170.72 L639.00,170.84 L639.75,170.95 L640.50,171.06 L641.25,171.17 L642.00,171.28 L642.75,171.38 L643.50,171.49 L644.25,171.58 L645.00,171.68 L645.75,171.77 L646.50,171.86 L647.25,171.95 L648.00,172.03 L648.75,172.11 L649.50,172.19 L650.25,172.27 L651.00,172.34 L651.75,172.41 L652.50,172.48 L653.25,172.54 L654.00,172.60 L654.75,172.66 L655.50,172.72 L656.25,172.78 L657.00,172.83 L657.75,172.89 L658.50,172.95 L659.25,173.00 L660.00,173.06 L660.75,173.11 L661.50,173.17 L662.25,173.22 L663.00,173.27 L663.75,173.32 L664.50,173.37 L665.25,173.42 L666.00,173.46 L666.75,173.51 L667.50,173.55 L668.25,173.60 L669.00,173.64 L669.75,173.68 L670.50,173.71 L671.25,173.75 L672.00,173.78 L672.75,173.81 L673.50,173.84 L674.25,173.87 L675.00,173.90 L675.75,173.92 L676.50,173.94 L677.25,173.96 L678.00,173.98 L678.75,173.99 L679.50,174.00" fill="none" stroke="#FF00FF" stroke-width="2.75" stroke-dasharray="9.61 10.52 9.43 10.69 8.95 10.69 11.63 4.63 11.13 4.82 5.33 4.11 5.98 4.20 5.50 4.99 9.97 9.20 10.22 9.63 10.35 9.11 9.76 5.70 6.15 6.50 9.43 9.95 9.13 10.38 7.38 9.43 9.53 10.67 9.43 10.52 7.30 2000.00" stroke-linejoin="round" />
<path d="M409.50,172.00 L410.25,171.94 L411.00,171.87 L411.75,171.81 L412.50,171.74 L413.25,171.66 L414.00,171.59 L414.75,171.51 L415.50,171.43 L416.25,171.34 L417.00,171.26 L417.75,171.17 L418.50,171.08 L419.25,170.98 L420.00,170.89 L420.75,170.79 L421.50,170.69 L422.25,170.59 L423.00,170.48 L423.75,170.38 L424.50,170.27 L425.00,170.20 L425.25,170.16 L426.00,170.05 L426.75,169.94 L427.50,169.82 L428.25,169.70 L429.00,169.58 L429.75,169.46 L430.50,169.33 L431.25,169.20 L432.00,169.06 L432.75,168.93 L433.50,168.79 L434.25,168.64 L435.00,168.50 L435.75,168.35 L436.50,168.20 L437.25,168.04 L438.00,167.88 L438.75,167.71 L439.50,167.55 L440.25,167.38 L441.00,167.20 L441.75,167.02 L442.50,166.84 L443.25,166.65 L444.00,166.46 L444.75,166.27 L445.00,166.20 L445.50,166.07 L446.25,165.86 L447.00,165.64 L447.75,165.42 L448.50,165.18 L449.25,164.94 L450.00,164.69 L450.75,164.43 L451.50,164.16 L452.25,163.88 L453.00,163.60 L453.75,163.30 L454.50,163.00 L455.25,162.69 L456.00,162.37 L456.75,162.04 L457.50,161.70 L458.25,161.36 L459.00,161.00 L459.75,160.63 L460.50,160.23 L461.25,159.80 L462.00,159.35 L462.75,158.88 L463.50,158.38 L464.25,157.85 L465.00,157.30 L465.75,156.71 L466.50,156.06 L467.25,155.36 L468.00,154.63 L468.75,153.86 L469.00,153.60 L469.50,153.07 L470.25,152.26 L471.00,151.41 L471.75,150.50 L472.50,149.51 L473.00,148.80 L473.25,148.43 L474.00,147.23 L474.75,145.87 L475.50,144.30 L476.25,142.38 L477.00,140.11 L477.50,138.50 L477.75,137.65 L478.50,134.86 L479.00,133.00 L479.25,132.11 L480.00,129.48 L480.75,126.87 L481.00,126.00 L481.50,124.23 L482.25,121.55 L483.00,119.00 L483.75,116.60 L484.50,114.28 L485.25,112.07 L486.00,110.00 L486.75,108.00 L487.50,106.04 L488.25,104.18 L489.00,102.46 L489.75,100.95 L490.00,100.50 L490.50,99.66 L491.25,98.49 L492.00,97.43 L492.75,96.46 L493.50,95.56 L494.00,95.00 L494.25,94.73 L495.00,93.92 L495.75,93.17 L496.50,92.47 L497.25,91.84 L498.00,91.30 L498.75,90.83 L499.50,90.39 L500.25,89.98 L501.00,89.61 L501.75,89.28 L502.50,88.98 L503.00,88.80 L503.25,88.72 L504.00,88.48 L504.75,88.27 L505.50,88.08 L506.25,87.90 L507.00,87.73 L507.75,87.56 L508.00,87.50 L508.50,87.39 L509.25,87.22 L510.00,87.06 L510.75,86.91 L511.50,86.76 L512.25,86.62 L513.00,86.50 L513.75,86.37 L514.50,86.24 L515.25,86.14 L516.00,86.10 L516.75,86.33 L517.50,86.59 L517.60,86.60 L518.25,86.17 L518.60,85.80 L519.00,85.34 L519.60,84.60 L519.75,84.45 L520.50,83.81 L521.25,83.23 L522.00,82.60 L522.75,81.86 L523.50,81.05 L524.25,80.21 L525.00,79.34 L525.75,78.48 L526.00,78.20 L526.50,77.63 L527.25,76.75 L528.00,75.87 L528.75,74.99 L529.50,74.14 L530.00,73.60 L530.25,73.34 L531.00,72.57 L531.75,71.83 L532.50,71.10 L533.25,70.40 L534.00,69.70 L534.75,69.01 L535.50,68.34 L536.25,67.68 L537.00,67.03 L537.75,66.41 L538.00,66.20 L538.50,65.78 L539.25,65.14 L540.00,64.52 L540.75,63.96 L541.50,63.50 L542.25,63.09 L543.00,62.70 L543.75,62.41 L544.50,62.30 L545.25,62.41 L546.00,62.70 L546.75,63.09 L547.50,63.50 L548.25,63.96 L549.00,64.52 L549.75,65.14 L550.50,65.78 L551.00,66.20 L551.25,66.41 L552.00,67.03 L552.75,67.68 L553.50,68.34 L554.25,69.01 L555.00,69.70 L555.75,70.40 L556.50,71.10 L557.25,71.83 L558.00,72.57 L558.75,73.34 L559.00,73.60 L559.50,74.14 L560.25,74.99 L561.00,75.87 L561.75,76.75 L562.50,77.63 L563.00,78.20 L563.25,78.48 L564.00,79.34 L564.75,80.21 L565.50,81.05 L566.25,81.86 L567.00,82.60 L567.75,83.23 L568.50,83.81 L569.25,84.45 L569.40,84.60 L570.00,85.34 L570.40,85.80 L570.75,86.17 L571.40,86.60 L571.50,86.59 L572.25,86.33 L573.00,86.10 L573.75,86.14 L574.50,86.24 L575.25,86.37 L576.00,86.50 L576.75,86.62 L577.50,86.76 L578.25,86.91 L579.00,87.06 L579.75,87.22 L580.50,87.39 L581.00,87.50 L581.25,87.56 L582.00,87.73 L582.75,87.90 L583.50,88.08 L584.25,88.27 L585.00,88.48 L585.75,88.72 L586.00,88.80 L586.50,88.98 L587.25,89.28 L588.00,89.61 L588.75,89.98 L589.50,90.39 L590.25,90.83 L591.00,91.30 L591.75,91.84 L592.50,92.47 L593.25,93.17 L594.00,93.92 L594.75,94.73 L595.00,95.00 L595.50,95.56 L596.25,96.46 L597.00,97.43 L597.75,98.49 L598.50,99.66 L599.00,100.50 L599.25,100.95 L600.00,102.46 L600.75,104.18 L601.50,106.04 L602.25,108.00 L603.00,110.00 L603.75,112.07 L604.50,114.28 L605.25,116.60 L606.00,119.00 L606.75,121.55 L607.50,124.23 L608.00,126.00 L608.25,126.87 L609.00,129.48 L609.75,132.11 L610.00,133.00 L610.50,134.86 L611.25,137.65 L611.50,138.50 L612.00,140.11 L612.75,142.38 L613.50,144.30 L614.25,145.87 L615.00,147.23 L615.75,148.43 L616.00,148.80 L616.50,149.51 L617.25,150.50 L618.00,151.41 L618.75,152.26 L619.50,153.07 L620.00,153.60 L620.25,153.86 L621.00,154.63 L621.75,155.36 L622.50,156.06 L623.25,156.71 L624.00,157.30 L624.75,157.85 L625.50,158.38 L626.25,158.88 L627.00,159.35 L627.75,159.80 L628.50,160.23 L629.25,160.63 L630.00,161.00 L630.75,161.36 L631.50,161.70 L632.25,162.04 L633.00,162.37 L633.75,162.69 L634.50,163.00 L635.25,163.30 L636.00,163.60 L636.75,163.88 L637.50,164.16 L638.25,164.43 L639.00,164.69 L639.75,164.94 L640.50,165.18 L641.25,165.42 L642.00,165.64 L642.75,165.86 L643.50,166.07 L644.00,166.20 L644.25,166.27 L645.00,166.46 L645.75,166.65 L646.50,166.84 L647.25,167.02 L648.00,167.20 L648.75,167.38 L649.50,167.55 L650.25,167.71 L651.00,167.88 L651.75,168.04 L652.50,168.20 L653.25,168.35 L654.00,168.50 L654.75,168.64 L655.50,168.79 L656.25,168.93 L657.00,169.06 L657.75,169.20 L658.50,169.33 L659.25,169.46 L660.00,169.58 L660.75,169.70 L661.50,169.82 L662.25,169.94 L663.00,170.05 L663.75,170.16 L664.00,170.20 L664.50,170.27 L665.25,170.38 L666.00,170.48 L666.75,170.59 L667.50,170.69 L668.25,170.79 L669.00,170.89 L669.75,170.98 L670.50,171.08 L671.25,171.17 L672.00,171.26 L672.75,171.34 L673.50,171.43 L674.25,171.51 L675.00,171.59 L675.75,171.66 L676.50,171.74 L677.25,171.81 L678.00,171.87 L678.75,171.94 L679.50,172.00" fill="none" stroke="#00F000" stroke-width="2.75" stroke-dasharray="2.7 2.4" stroke-linejoin="round" />
<path d="M409.50,170.00 L410.25,169.94 L411.00,169.88 L411.75,169.81 L412.50,169.73 L413.25,169.66 L414.00,169.58 L414.75,169.49 L415.50,169.40 L416.25,169.31 L417.00,169.21 L417.75,169.11 L418.50,169.01 L419.25,168.90 L420.00,168.79 L420.75,168.68 L421.50,168.57 L422.25,168.45 L423.00,168.33 L423.75,168.21 L424.50,168.08 L425.00,168.00 L425.25,167.96 L426.00,167.83 L426.75,167.69 L427.50,167.55 L428.25,167.40 L429.00,167.25 L429.75,167.10 L430.50,166.94 L431.25,166.77 L432.00,166.60 L432.75,166.42 L433.50,166.24 L434.25,166.06 L435.00,165.87 L435.75,165.68 L436.50,165.48 L437.25,165.28 L438.00,165.08 L438.75,164.87 L439.50,164.66 L440.25,164.44 L441.00,164.22 L441.75,164.00 L442.50,163.77 L443.25,163.55 L444.00,163.31 L444.75,163.08 L445.00,163.00 L445.50,162.84 L446.25,162.59 L447.00,162.33 L447.75,162.07 L448.50,161.79 L449.25,161.51 L450.00,161.22 L450.75,160.92 L451.50,160.61 L452.25,160.30 L453.00,159.98 L453.75,159.65 L454.50,159.31 L455.25,158.98 L456.00,158.63 L456.75,158.28 L457.50,157.92 L458.25,157.56 L459.00,157.20 L459.75,156.83 L460.50,156.44 L461.25,156.04 L462.00,155.63 L462.75,155.20 L463.50,154.75 L464.25,154.29 L465.00,153.80 L465.75,153.29 L466.50,152.76 L467.25,152.21 L468.00,151.61 L468.75,150.98 L469.50,150.30 L470.25,149.57 L471.00,148.79 L471.75,147.93 L472.50,146.98 L473.20,146.00 L473.25,145.93 L474.00,144.75 L474.75,143.39 L475.50,141.75 L475.80,141.00 L476.25,139.61 L477.00,136.63 L477.50,134.50 L477.75,133.40 L478.50,129.82 L479.00,127.50 L479.25,126.41 L480.00,123.12 L480.75,119.94 L481.50,117.03 L482.10,115.00 L482.25,114.54 L483.00,112.35 L483.75,110.35 L484.50,108.51 L485.25,106.81 L486.00,105.21 L486.10,105.00 L486.75,103.71 L487.50,102.34 L488.25,101.06 L489.00,99.83 L489.20,99.50 L489.75,98.62 L490.50,97.47 L491.25,96.36 L492.00,95.28 L492.20,95.00 L492.75,94.25 L493.50,93.26 L494.25,92.31 L495.00,91.37 L495.75,90.43 L496.50,89.45 L497.20,88.50 L497.25,88.43 L498.00,87.35 L498.75,86.22 L499.50,85.07 L500.25,83.92 L501.00,82.79 L501.20,82.50 L501.75,81.70 L502.50,80.62 L503.25,79.55 L504.00,78.50 L504.75,77.47 L505.10,77.00 L505.50,76.47 L506.25,75.49 L507.00,74.52 L507.75,73.57 L508.50,72.63 L509.25,71.70 L510.00,70.78 L510.75,69.86 L510.80,69.80 L511.50,68.95 L512.25,68.04 L513.00,67.14 L513.75,66.25 L514.50,65.37 L515.25,64.49 L515.50,64.20 L516.00,63.64 L516.75,62.85 L517.50,62.02 L518.25,61.07 L518.30,61.00 L519.00,59.88 L519.75,58.48 L520.50,56.98 L521.00,56.00 L521.25,55.52 L522.00,54.03 L522.75,52.51 L523.50,51.00 L524.00,50.00 L524.25,49.51 L525.00,48.03 L525.75,46.57 L526.50,45.11 L527.25,43.65 L528.00,42.20 L528.75,40.74 L529.50,39.28 L530.00,38.30 L530.25,37.81 L531.00,36.34 L531.75,34.86 L532.50,33.38 L533.25,31.90 L534.00,30.43 L534.75,28.95 L535.50,27.48 L536.00,26.50 L536.25,26.01 L537.00,24.55 L537.75,23.08 L538.50,21.62 L539.25,20.16 L540.00,18.71 L540.75,17.25 L541.50,15.80 L542.25,14.34 L543.00,12.89 L543.75,11.45 L544.50,10.00 L545.25,11.45 L546.00,12.89 L546.75,14.34 L547.50,15.80 L548.25,17.25 L549.00,18.71 L549.75,20.16 L550.50,21.62 L551.25,23.08 L552.00,24.55 L552.75,26.01 L553.00,26.50 L553.50,27.48 L554.25,28.95 L555.00,30.43 L555.75,31.90 L556.50,33.38 L557.25,34.86 L558.00,36.34 L558.75,37.81 L559.00,38.30 L559.50,39.28 L560.25,40.74 L561.00,42.20 L561.75,43.65 L562.50,45.11 L563.25,46.57 L564.00,48.03 L564.75,49.51 L565.00,50.00 L565.50,51.00 L566.25,52.51 L567.00,54.03 L567.75,55.52 L568.00,56.00 L568.50,56.98 L569.25,58.48 L570.00,59.88 L570.70,61.00 L570.75,61.07 L571.50,62.02 L572.25,62.85 L573.00,63.64 L573.50,64.20 L573.75,64.49 L574.50,65.37 L575.25,66.25 L576.00,67.14 L576.75,68.04 L577.50,68.95 L578.20,69.80 L578.25,69.86 L579.00,70.78 L579.75,71.70 L580.50,72.63 L581.25,73.57 L582.00,74.52 L582.75,75.49 L583.50,76.47 L583.90,77.00 L584.25,77.47 L585.00,78.50 L585.75,79.55 L586.50,80.62 L587.25,81.70 L587.80,82.50 L588.00,82.79 L588.75,83.92 L589.50,85.07 L590.25,86.22 L591.00,87.35 L591.75,88.43 L591.80,88.50 L592.50,89.45 L593.25,90.43 L594.00,91.37 L594.75,92.31 L595.50,93.26 L596.25,94.25 L596.80,95.00 L597.00,95.28 L597.75,96.36 L598.50,97.47 L599.25,98.62 L599.80,99.50 L600.00,99.83 L600.75,101.06 L601.50,102.34 L602.25,103.71 L602.90,105.00 L603.00,105.21 L603.75,106.81 L604.50,108.51 L605.25,110.35 L606.00,112.35 L606.75,114.54 L606.90,115.00 L607.50,117.03 L608.25,119.94 L609.00,123.12 L609.75,126.41 L610.00,127.50 L610.50,129.82 L611.25,133.40 L611.50,134.50 L612.00,136.63 L612.75,139.61 L613.20,141.00 L613.50,141.75 L614.25,143.39 L615.00,144.75 L615.75,145.93 L615.80,146.00 L616.50,146.98 L617.25,147.93 L618.00,148.79 L618.75,149.57 L619.50,150.30 L620.25,150.98 L621.00,151.61 L621.75,152.21 L622.50,152.76 L623.25,153.29 L624.00,153.80 L624.75,154.29 L625.50,154.75 L626.25,155.20 L627.00,155.63 L627.75,156.04 L628.50,156.44 L629.25,156.83 L630.00,157.20 L630.75,157.56 L631.50,157.92 L632.25,158.28 L633.00,158.63 L633.75,158.98 L634.50,159.31 L635.25,159.65 L636.00,159.98 L636.75,160.30 L637.50,160.61 L638.25,160.92 L639.00,161.22 L639.75,161.51 L640.50,161.79 L641.25,162.07 L642.00,162.33 L642.75,162.59 L643.50,162.84 L644.00,163.00 L644.25,163.08 L645.00,163.31 L645.75,163.55 L646.50,163.77 L647.25,164.00 L648.00,164.22 L648.75,164.44 L649.50,164.66 L650.25,164.87 L651.00,165.08 L651.75,165.28 L652.50,165.48 L653.25,165.68 L654.00,165.87 L654.75,166.06 L655.50,166.24 L656.25,166.42 L657.00,166.60 L657.75,166.77 L658.50,166.94 L659.25,167.10 L660.00,167.25 L660.75,167.40 L661.50,167.55 L662.25,167.69 L663.00,167.83 L663.75,167.96 L664.00,168.00 L664.50,168.08 L665.25,168.21 L666.00,168.33 L666.75,168.45 L667.50,168.57 L668.25,168.68 L669.00,168.79 L669.75,168.90 L670.50,169.01 L671.25,169.11 L672.00,169.21 L672.75,169.31 L673.50,169.40 L674.25,169.49 L675.00,169.58 L675.75,169.66 L676.50,169.73 L677.25,169.81 L678.00,169.88 L678.75,169.94 L679.50,170.00" fill="none" stroke="#A43CFF" stroke-width="2.75" stroke-dasharray="10 2.9 4.6 2.9" stroke-linejoin="round" />
</g>
<g clip-path="url(#cc)">
<path d="M55.50,310.20 L56.25,310.22 L57.00,310.23 L57.75,310.26 L58.50,310.28 L59.25,310.30 L60.00,310.33 L60.75,310.36 L61.50,310.39 L62.25,310.42 L63.00,310.46 L63.75,310.50 L64.50,310.53 L65.25,310.57 L66.00,310.62 L66.75,310.66 L67.50,310.70 L68.25,310.75 L69.00,310.80 L69.75,310.85 L70.50,310.89 L71.25,310.95 L72.00,311.00 L72.75,311.05 L73.50,311.10 L74.25,311.16 L75.00,311.21 L75.75,311.27 L76.50,311.33 L77.25,311.39 L78.00,311.44 L78.75,311.50 L79.50,311.56 L80.00,311.60 L80.25,311.62 L81.00,311.68 L81.75,311.75 L82.50,311.81 L83.25,311.89 L84.00,311.96 L84.75,312.04 L85.50,312.12 L86.25,312.20 L87.00,312.28 L87.75,312.37 L88.50,312.46 L89.25,312.56 L90.00,312.65 L90.75,312.75 L91.50,312.85 L92.25,312.95 L93.00,313.06 L93.75,313.16 L94.50,313.27 L95.25,313.39 L96.00,313.50 L96.75,313.62 L97.50,313.74 L98.25,313.87 L99.00,314.00 L99.75,314.14 L100.50,314.29 L101.25,314.44 L102.00,314.59 L102.75,314.75 L103.50,314.92 L104.25,315.09 L105.00,315.26 L105.75,315.44 L106.50,315.62 L107.25,315.81 L108.00,316.00 L108.75,316.20 L109.50,316.40 L110.25,316.62 L111.00,316.85 L111.75,317.09 L112.50,317.34 L113.25,317.61 L114.00,317.90 L114.75,318.20 L115.50,318.53 L116.25,318.89 L117.00,319.28 L117.75,319.72 L118.20,320.00 L118.50,320.20 L119.25,320.75 L120.00,321.40 L120.75,322.16 L121.30,322.80 L121.50,323.06 L122.25,324.25 L123.00,325.79 L123.30,326.50 L123.75,327.92 L124.50,330.69 L124.60,331.00 L125.25,332.79 L126.00,334.57 L126.30,335.20 L126.75,336.06 L127.50,337.32 L128.25,338.48 L128.60,339.00 L129.00,339.59 L129.75,340.63 L130.50,341.63 L131.00,342.30 L131.25,342.64 L132.00,343.65 L132.75,344.65 L133.50,345.64 L134.25,346.61 L134.80,347.30 L135.00,347.55 L135.75,348.46 L136.50,349.36 L137.25,350.25 L138.00,351.12 L138.75,351.97 L139.50,352.81 L140.25,353.62 L140.60,354.00 L141.00,354.43 L141.75,355.22 L142.50,356.00 L143.25,356.77 L144.00,357.54 L144.75,358.29 L145.50,359.03 L146.25,359.76 L147.00,360.47 L147.75,361.18 L148.50,361.87 L149.25,362.54 L150.00,363.20 L150.75,363.84 L151.50,364.48 L152.25,365.10 L153.00,365.70 L153.75,366.30 L154.50,366.89 L155.25,367.47 L156.00,368.04 L156.75,368.61 L157.50,369.17 L158.25,369.72 L159.00,370.27 L159.75,370.82 L160.00,371.00 L160.50,371.36 L161.25,371.90 L162.00,372.44 L162.75,372.97 L163.50,373.49 L164.25,374.01 L165.00,374.53 L165.75,375.03 L166.50,375.54 L167.25,376.03 L168.00,376.52 L168.75,377.01 L169.50,377.49 L170.00,377.80 L170.25,377.96 L171.00,378.42 L171.75,378.88 L172.50,379.33 L173.25,379.77 L174.00,380.21 L174.75,380.64 L175.50,381.07 L176.25,381.50 L177.00,381.92 L177.75,382.35 L178.50,382.76 L179.25,383.18 L180.00,383.60 L180.75,384.02 L181.50,384.43 L182.25,384.84 L183.00,385.25 L183.75,385.66 L184.50,386.06 L185.25,386.46 L186.00,386.86 L186.75,387.26 L187.50,387.65 L188.25,388.04 L189.00,388.43 L189.75,388.82 L190.50,389.20 L191.25,388.82 L192.00,388.43 L192.75,388.04 L193.50,387.65 L194.25,387.26 L195.00,386.86 L195.75,386.46 L196.50,386.06 L197.25,385.66 L198.00,385.25 L198.75,384.84 L199.50,384.43 L200.25,384.02 L201.00,383.60 L201.75,383.18 L202.50,382.76 L203.25,382.35 L204.00,381.92 L204.75,381.50 L205.50,381.07 L206.25,380.64 L207.00,380.21 L207.75,379.77 L208.50,379.33 L209.25,378.88 L210.00,378.42 L210.75,377.96 L211.00,377.80 L211.50,377.49 L212.25,377.01 L213.00,376.52 L213.75,376.03 L214.50,375.54 L215.25,375.03 L216.00,374.53 L216.75,374.01 L217.50,373.49 L218.25,372.97 L219.00,372.44 L219.75,371.90 L220.50,371.36 L221.00,371.00 L221.25,370.82 L222.00,370.27 L222.75,369.72 L223.50,369.17 L224.25,368.61 L225.00,368.04 L225.75,367.47 L226.50,366.89 L227.25,366.30 L228.00,365.70 L228.75,365.10 L229.50,364.48 L230.25,363.84 L231.00,363.20 L231.75,362.54 L232.50,361.87 L233.25,361.18 L234.00,360.47 L234.75,359.76 L235.50,359.03 L236.25,358.29 L237.00,357.54 L237.75,356.77 L238.50,356.00 L239.25,355.22 L240.00,354.43 L240.40,354.00 L240.75,353.62 L241.50,352.81 L242.25,351.97 L243.00,351.12 L243.75,350.25 L244.50,349.36 L245.25,348.46 L246.00,347.55 L246.20,347.30 L246.75,346.61 L247.50,345.64 L248.25,344.65 L249.00,343.65 L249.75,342.64 L250.00,342.30 L250.50,341.63 L251.25,340.63 L252.00,339.59 L252.40,339.00 L252.75,338.48 L253.50,337.32 L254.25,336.06 L254.70,335.20 L255.00,334.57 L255.75,332.79 L256.40,331.00 L256.50,330.69 L257.25,327.92 L257.70,326.50 L258.00,325.79 L258.75,324.25 L259.50,323.06 L259.70,322.80 L260.25,322.16 L261.00,321.40 L261.75,320.75 L262.50,320.20 L262.80,320.00 L263.25,319.72 L264.00,319.28 L264.75,318.89 L265.50,318.53 L266.25,318.20 L267.00,317.90 L267.75,317.61 L268.50,317.34 L269.25,317.09 L270.00,316.85 L270.75,316.62 L271.50,316.40 L272.25,316.20 L273.00,316.00 L273.75,315.81 L274.50,315.62 L275.25,315.44 L276.00,315.26 L276.75,315.09 L277.50,314.92 L278.25,314.75 L279.00,314.59 L279.75,314.44 L280.50,314.29 L281.25,314.14 L282.00,314.00 L282.75,313.87 L283.50,313.74 L284.25,313.62 L285.00,313.50 L285.75,313.39 L286.50,313.27 L287.25,313.16 L288.00,313.06 L288.75,312.95 L289.50,312.85 L290.25,312.75 L291.00,312.65 L291.75,312.56 L292.50,312.46 L293.25,312.37 L294.00,312.28 L294.75,312.20 L295.50,312.12 L296.25,312.04 L297.00,311.96 L297.75,311.89 L298.50,311.81 L299.25,311.75 L300.00,311.68 L300.75,311.62 L301.00,311.60 L301.50,311.56 L302.25,311.50 L303.00,311.44 L303.75,311.39 L304.50,311.33 L305.25,311.27 L306.00,311.21 L306.75,311.16 L307.50,311.10 L308.25,311.05 L309.00,311.00 L309.75,310.95 L310.50,310.89 L311.25,310.85 L312.00,310.80 L312.75,310.75 L313.50,310.70 L314.25,310.66 L315.00,310.62 L315.75,310.57 L316.50,310.53 L317.25,310.50 L318.00,310.46 L318.75,310.42 L319.50,310.39 L320.25,310.36 L321.00,310.33 L321.75,310.30 L322.50,310.28 L323.25,310.26 L324.00,310.23 L324.75,310.22 L325.50,310.20" fill="none" stroke="#000000" stroke-width="2.75" stroke-linejoin="round" />
<path d="M55.50,309.20 L56.25,309.22 L57.00,309.24 L57.75,309.26 L58.50,309.28 L59.25,309.30 L60.00,309.32 L60.75,309.34 L61.50,309.37 L62.25,309.39 L63.00,309.41 L63.75,309.43 L64.50,309.46 L65.25,309.48 L66.00,309.51 L66.75,309.53 L67.50,309.55 L68.25,309.58 L69.00,309.60 L69.75,309.63 L70.50,309.66 L71.25,309.68 L72.00,309.71 L72.75,309.73 L73.50,309.76 L74.25,309.79 L75.00,309.81 L75.75,309.84 L76.50,309.87 L77.25,309.90 L78.00,309.92 L78.75,309.95 L79.50,309.98 L80.00,310.00 L80.25,310.01 L81.00,310.04 L81.75,310.07 L82.50,310.10 L83.25,310.12 L84.00,310.15 L84.75,310.18 L85.50,310.21 L86.25,310.24 L87.00,310.27 L87.75,310.30 L88.50,310.34 L89.25,310.37 L90.00,310.40 L90.75,310.43 L91.50,310.47 L92.25,310.50 L93.00,310.53 L93.75,310.57 L94.50,310.60 L95.25,310.64 L96.00,310.68 L96.75,310.71 L97.50,310.75 L98.25,310.79 L99.00,310.83 L99.75,310.87 L100.50,310.91 L101.25,310.96 L102.00,311.00 L102.75,311.04 L103.50,311.09 L104.25,311.14 L105.00,311.18 L105.75,311.24 L106.50,311.29 L107.25,311.35 L108.00,311.41 L108.75,311.48 L109.50,311.55 L110.00,311.60 L110.25,311.63 L111.00,311.71 L111.75,311.81 L112.50,311.91 L113.25,312.04 L114.00,312.18 L114.75,312.34 L115.00,312.40 L115.50,312.54 L116.25,312.81 L117.00,313.15 L117.75,313.55 L118.50,314.00 L119.25,314.53 L120.00,315.19 L120.75,316.00 L121.50,317.00 L122.25,318.50 L123.00,320.56 L123.75,322.79 L124.00,323.50 L124.50,325.00 L125.25,327.39 L126.00,329.50 L126.75,331.26 L127.50,332.84 L128.25,334.10 L128.40,334.30 L129.00,335.03 L129.75,335.82 L130.50,336.43 L131.00,336.70 L131.25,336.80 L132.00,337.09 L132.75,337.33 L133.50,337.47 L134.00,337.50 L134.25,337.49 L135.00,337.40 L135.75,337.22 L136.50,336.98 L137.00,336.80 L137.25,336.69 L138.00,336.22 L138.75,335.55 L139.50,334.76 L140.00,334.20 L140.25,333.90 L141.00,332.82 L141.75,331.54 L142.50,330.15 L143.00,329.20 L143.25,328.72 L144.00,327.16 L144.75,325.48 L145.50,323.76 L146.00,322.60 L146.25,322.02 L147.00,320.24 L147.75,318.42 L148.50,316.60 L149.25,314.79 L150.00,312.98 L150.75,311.19 L151.00,310.60 L151.50,309.43 L152.25,307.68 L153.00,305.98 L153.50,304.90 L153.75,304.37 L154.50,302.80 L155.25,301.31 L156.00,300.00 L156.75,298.86 L157.50,297.86 L158.00,297.30 L158.25,297.05 L159.00,296.36 L159.75,295.83 L160.00,295.70 L160.50,295.49 L161.25,295.21 L162.00,294.99 L162.75,294.84 L163.00,294.80 L163.50,294.74 L164.25,294.66 L165.00,294.60 L165.75,294.55 L166.50,294.50 L167.25,294.46 L168.00,294.42 L168.75,294.38 L169.50,294.33 L170.00,294.30 L170.25,294.28 L171.00,294.23 L171.75,294.19 L172.50,294.14 L173.25,294.10 L174.00,294.05 L174.75,294.00 L175.50,293.94 L176.00,293.90 L176.25,293.88 L177.00,293.81 L177.75,293.73 L178.50,293.65 L179.25,293.56 L180.00,293.46 L180.75,293.34 L181.00,293.30 L181.50,293.21 L182.25,293.03 L183.00,292.83 L183.75,292.60 L184.50,292.36 L185.00,292.20 L185.25,292.12 L186.00,291.84 L186.75,291.54 L187.50,291.22 L188.00,291.00 L188.25,290.89 L189.00,290.54 L189.75,290.18 L190.50,289.80 L191.25,290.18 L192.00,290.54 L192.75,290.89 L193.00,291.00 L193.50,291.22 L194.25,291.54 L195.00,291.84 L195.75,292.12 L196.00,292.20 L196.50,292.36 L197.25,292.60 L198.00,292.83 L198.75,293.03 L199.50,293.21 L200.00,293.30 L200.25,293.34 L201.00,293.46 L201.75,293.56 L202.50,293.65 L203.25,293.73 L204.00,293.81 L204.75,293.88 L205.00,293.90 L205.50,293.94 L206.25,294.00 L207.00,294.05 L207.75,294.10 L208.50,294.14 L209.25,294.19 L210.00,294.23 L210.75,294.28 L211.00,294.30 L211.50,294.33 L212.25,294.38 L213.00,294.42 L213.75,294.46 L214.50,294.50 L215.25,294.55 L216.00,294.60 L216.75,294.66 L217.50,294.74 L218.00,294.80 L218.25,294.84 L219.00,294.99 L219.75,295.21 L220.50,295.49 L221.00,295.70 L221.25,295.83 L222.00,296.36 L222.75,297.05 L223.00,297.30 L223.50,297.86 L224.25,298.86 L225.00,300.00 L225.75,301.31 L226.50,302.80 L227.25,304.37 L227.50,304.90 L228.00,305.98 L228.75,307.68 L229.50,309.43 L230.00,310.60 L230.25,311.19 L231.00,312.98 L231.75,314.79 L232.50,316.60 L233.25,318.42 L234.00,320.24 L234.75,322.02 L235.00,322.60 L235.50,323.76 L236.25,325.48 L237.00,327.16 L237.75,328.72 L238.00,329.20 L238.50,330.15 L239.25,331.54 L240.00,332.82 L240.75,333.90 L241.00,334.20 L241.50,334.76 L242.25,335.55 L243.00,336.22 L243.75,336.69 L244.00,336.80 L244.50,336.98 L245.25,337.22 L246.00,337.40 L246.75,337.49 L247.00,337.50 L247.50,337.47 L248.25,337.33 L249.00,337.09 L249.75,336.80 L250.00,336.70 L250.50,336.43 L251.25,335.82 L252.00,335.03 L252.60,334.30 L252.75,334.10 L253.50,332.84 L254.25,331.26 L255.00,329.50 L255.75,327.39 L256.50,325.00 L257.00,323.50 L257.25,322.79 L258.00,320.56 L258.75,318.50 L259.50,317.00 L260.25,316.00 L261.00,315.19 L261.75,314.53 L262.50,314.00 L263.25,313.55 L264.00,313.15 L264.75,312.81 L265.50,312.54 L266.00,312.40 L266.25,312.34 L267.00,312.18 L267.75,312.04 L268.50,311.91 L269.25,311.81 L270.00,311.71 L270.75,311.63 L271.00,311.60 L271.50,311.55 L272.25,311.48 L273.00,311.41 L273.75,311.35 L274.50,311.29 L275.25,311.24 L276.00,311.18 L276.75,311.14 L277.50,311.09 L278.25,311.04 L279.00,311.00 L279.75,310.96 L280.50,310.91 L281.25,310.87 L282.00,310.83 L282.75,310.79 L283.50,310.75 L284.25,310.71 L285.00,310.68 L285.75,310.64 L286.50,310.60 L287.25,310.57 L288.00,310.53 L288.75,310.50 L289.50,310.47 L290.25,310.43 L291.00,310.40 L291.75,310.37 L292.50,310.34 L293.25,310.30 L294.00,310.27 L294.75,310.24 L295.50,310.21 L296.25,310.18 L297.00,310.15 L297.75,310.12 L298.50,310.10 L299.25,310.07 L300.00,310.04 L300.75,310.01 L301.00,310.00 L301.50,309.98 L302.25,309.95 L303.00,309.92 L303.75,309.90 L304.50,309.87 L305.25,309.84 L306.00,309.81 L306.75,309.79 L307.50,309.76 L308.25,309.73 L309.00,309.71 L309.75,309.68 L310.50,309.66 L311.25,309.63 L312.00,309.60 L312.75,309.58 L313.50,309.55 L314.25,309.53 L315.00,309.51 L315.75,309.48 L316.50,309.46 L317.25,309.43 L318.00,309.41 L318.75,309.39 L319.50,309.37 L320.25,309.34 L321.00,309.32 L321.75,309.30 L322.50,309.28 L323.25,309.26 L324.00,309.24 L324.75,309.22 L325.50,309.20" fill="none" stroke="#FF00FF" stroke-width="2.75" stroke-dasharray="10.00 10.51 10.01 10.01 10.02 8.97 10.25 10.88 9.75 7.38 10.00 9.50 10.50 10.00 9.00 9.17 9.96 8.10 10.48 9.27 10.54 7.51 11.13 9.00 10.75 9.13 8.88 8.75 10.50 9.77 10.05 10.62 10.01 9.91 9.41 10.10 0.90 2000.00" stroke-linejoin="round" />
<path d="M55.50,308.20 L56.25,308.20 L57.00,308.20 L57.74,308.19 L58.49,308.18 L59.24,308.17 L59.99,308.16 L60.74,308.15 L61.48,308.14 L62.23,308.12 L62.98,308.10 L63.73,308.08 L64.47,308.06 L65.22,308.04 L65.97,308.01 L66.72,307.99 L67.47,307.96 L68.21,307.94 L68.96,307.91 L69.71,307.88 L70.46,307.85 L71.21,307.82 L71.95,307.78 L72.70,307.75 L73.45,307.72 L74.20,307.68 L74.95,307.65 L75.69,307.61 L76.44,307.58 L77.19,307.54 L77.94,307.50 L78.69,307.47 L79.43,307.43 L80.00,307.40 L80.18,307.39 L80.93,307.35 L81.68,307.31 L82.42,307.26 L83.17,307.21 L83.92,307.15 L84.67,307.10 L85.42,307.04 L86.16,306.97 L86.91,306.91 L87.66,306.84 L88.41,306.77 L89.16,306.69 L89.90,306.62 L90.65,306.54 L91.40,306.46 L92.15,306.37 L92.90,306.29 L93.64,306.20 L94.39,306.11 L95.14,306.02 L95.89,305.93 L96.64,305.84 L97.38,305.74 L98.13,305.64 L98.88,305.55 L99.63,305.45 L100.00,305.40 L100.38,305.35 L101.12,305.24 L101.87,305.13 L102.62,305.01 L103.37,304.89 L104.11,304.75 L104.86,304.62 L105.61,304.48 L106.36,304.33 L107.11,304.18 L107.85,304.03 L108.00,304.00 L108.60,303.87 L109.35,303.71 L110.10,303.54 L110.85,303.36 L111.59,303.17 L112.34,302.98 L113.09,302.77 L113.84,302.55 L114.00,302.50 L114.59,302.31 L115.33,302.05 L116.08,301.77 L116.83,301.47 L117.58,301.17 L118.00,301.00 L118.33,300.86 L119.07,300.46 L119.82,300.05 L120.57,299.73 L121.30,299.60 L121.32,299.60 L122.06,299.91 L122.80,300.60 L122.81,300.61 L123.56,302.37 L124.00,303.80 L124.31,304.92 L125.00,307.80 L125.06,308.02 L125.80,311.00 L126.00,311.80 L126.55,314.31 L126.80,315.20 L127.30,316.30 L128.04,314.95 L128.10,314.80 L128.79,311.89 L129.10,310.30 L129.53,308.07 L130.20,304.40 L130.27,304.00 L131.02,299.87 L131.20,299.00 L131.76,296.70 L132.30,294.80 L132.50,294.13 L133.25,291.89 L133.60,291.00 L133.99,290.12 L134.74,288.65 L135.48,287.43 L135.50,287.40 L136.22,286.42 L136.97,285.54 L137.71,284.78 L138.00,284.50 L138.45,284.09 L139.20,283.48 L139.94,282.92 L140.68,282.41 L141.00,282.20 L141.43,281.93 L142.17,281.47 L142.91,281.05 L143.66,280.64 L144.40,280.25 L144.50,280.20 L145.14,279.87 L145.89,279.51 L146.63,279.16 L147.38,278.82 L148.12,278.48 L148.86,278.14 L149.61,277.79 L150.00,277.60 L150.35,277.43 L151.09,277.06 L151.84,276.70 L152.58,276.32 L153.32,275.95 L154.07,275.58 L154.81,275.20 L155.55,274.83 L156.00,274.60 L156.30,274.45 L157.04,274.07 L157.78,273.70 L158.53,273.32 L159.27,272.94 L160.02,272.56 L160.76,272.18 L161.50,271.80 L162.25,271.42 L162.99,271.04 L163.73,270.66 L164.48,270.28 L165.22,269.90 L165.96,269.52 L166.00,269.50 L166.71,269.14 L167.45,268.75 L168.19,268.37 L168.94,267.98 L169.68,267.59 L170.42,267.21 L171.17,266.83 L171.91,266.44 L172.00,266.40 L172.66,266.07 L173.40,265.69 L174.14,265.31 L174.89,264.94 L175.63,264.56 L176.37,264.19 L177.12,263.82 L177.86,263.45 L178.60,263.08 L179.35,262.71 L180.09,262.34 L180.83,261.97 L181.58,261.61 L182.00,261.40 L182.32,261.24 L183.06,260.88 L183.81,260.52 L184.55,260.15 L185.30,259.79 L186.04,259.43 L186.78,259.08 L187.53,258.72 L188.27,258.36 L189.01,258.01 L189.76,257.65 L190.50,257.30 L191.24,257.65 L191.99,258.01 L192.73,258.36 L193.47,258.72 L194.22,259.08 L194.96,259.43 L195.70,259.79 L196.45,260.15 L197.19,260.52 L197.94,260.88 L198.68,261.24 L199.00,261.40 L199.42,261.61 L200.17,261.97 L200.91,262.34 L201.65,262.71 L202.40,263.08 L203.14,263.45 L203.88,263.82 L204.63,264.19 L205.37,264.56 L206.11,264.94 L206.86,265.31 L207.60,265.69 L208.34,266.07 L209.00,266.40 L209.09,266.44 L209.83,266.83 L210.58,267.21 L211.32,267.59 L212.06,267.98 L212.81,268.37 L213.55,268.75 L214.29,269.14 L215.00,269.50 L215.04,269.52 L215.78,269.90 L216.52,270.28 L217.27,270.66 L218.01,271.04 L218.75,271.42 L219.50,271.80 L220.24,272.18 L220.98,272.56 L221.73,272.94 L222.47,273.32 L223.22,273.70 L223.96,274.07 L224.70,274.45 L225.00,274.60 L225.45,274.83 L226.19,275.20 L226.93,275.58 L227.68,275.95 L228.42,276.32 L229.16,276.70 L229.91,277.06 L230.65,277.43 L231.00,277.60 L231.39,277.79 L232.14,278.14 L232.88,278.48 L233.62,278.82 L234.37,279.16 L235.11,279.51 L235.86,279.87 L236.50,280.20 L236.60,280.25 L237.34,280.64 L238.09,281.05 L238.83,281.47 L239.57,281.93 L240.00,282.20 L240.32,282.41 L241.06,282.92 L241.80,283.48 L242.55,284.09 L243.00,284.50 L243.29,284.78 L244.03,285.54 L244.78,286.42 L245.50,287.40 L245.52,287.43 L246.26,288.65 L247.01,290.12 L247.40,291.00 L247.75,291.89 L248.50,294.13 L248.70,294.80 L249.24,296.70 L249.80,299.00 L249.98,299.87 L250.73,304.00 L250.80,304.40 L251.47,308.07 L251.90,310.30 L252.21,311.89 L252.90,314.80 L252.96,314.95 L253.70,316.30 L254.20,315.20 L254.45,314.31 L255.00,311.80 L255.20,311.00 L255.94,308.02 L256.00,307.80 L256.69,304.92 L257.00,303.80 L257.44,302.37 L258.19,300.61 L258.20,300.60 L258.94,299.91 L259.68,299.60 L259.70,299.60 L260.43,299.73 L261.18,300.05 L261.93,300.46 L262.68,300.86 L263.00,301.00 L263.42,301.17 L264.17,301.47 L264.92,301.77 L265.67,302.05 L266.41,302.31 L267.00,302.50 L267.16,302.55 L267.91,302.77 L268.66,302.98 L269.41,303.17 L270.15,303.36 L270.90,303.54 L271.65,303.71 L272.40,303.87 L273.00,304.00 L273.15,304.03 L273.89,304.18 L274.64,304.33 L275.39,304.48 L276.14,304.62 L276.89,304.75 L277.63,304.89 L278.38,305.01 L279.13,305.13 L279.88,305.24 L280.62,305.35 L281.00,305.40 L281.37,305.45 L282.12,305.55 L282.87,305.64 L283.62,305.74 L284.36,305.84 L285.11,305.93 L285.86,306.02 L286.61,306.11 L287.36,306.20 L288.10,306.29 L288.85,306.37 L289.60,306.46 L290.35,306.54 L291.10,306.62 L291.84,306.69 L292.59,306.77 L293.34,306.84 L294.09,306.91 L294.84,306.97 L295.58,307.04 L296.33,307.10 L297.08,307.15 L297.83,307.21 L298.57,307.26 L299.32,307.31 L300.07,307.35 L300.82,307.39 L301.00,307.40 L301.57,307.43 L302.31,307.47 L303.06,307.50 L303.81,307.54 L304.56,307.58 L305.31,307.61 L306.05,307.65 L306.80,307.68 L307.55,307.72 L308.30,307.75 L309.05,307.78 L309.79,307.82 L310.54,307.85 L311.29,307.88 L312.04,307.91 L312.79,307.94 L313.53,307.96 L314.28,307.99 L315.03,308.01 L315.78,308.04 L316.52,308.06 L317.27,308.08 L318.02,308.10 L318.77,308.12 L319.52,308.14 L320.26,308.15 L321.01,308.16 L321.76,308.17 L322.51,308.18 L323.26,308.19 L324.00,308.20 L324.75,308.20 L325.50,308.20" fill="none" stroke="#00F000" stroke-width="2.75" stroke-dasharray="2.7 2.4" stroke-linejoin="round" />
<path d="M55.50,307.00 L56.25,307.00 L56.99,306.99 L57.74,306.99 L58.48,306.98 L59.23,306.97 L59.97,306.95 L60.72,306.94 L61.47,306.92 L62.21,306.90 L62.96,306.88 L63.70,306.85 L64.45,306.83 L65.19,306.80 L65.94,306.77 L66.68,306.74 L67.43,306.70 L68.18,306.67 L68.92,306.63 L69.67,306.60 L70.41,306.56 L71.16,306.52 L71.90,306.48 L72.65,306.44 L73.40,306.40 L74.14,306.35 L74.89,306.31 L75.63,306.27 L76.38,306.22 L77.12,306.18 L77.87,306.13 L78.62,306.09 L79.36,306.04 L80.00,306.00 L80.11,305.99 L80.85,305.94 L81.60,305.89 L82.34,305.84 L83.09,305.78 L83.83,305.71 L84.58,305.65 L85.33,305.58 L86.07,305.51 L86.82,305.43 L87.56,305.35 L88.31,305.27 L89.05,305.18 L89.80,305.09 L90.55,305.00 L91.29,304.91 L92.04,304.81 L92.78,304.71 L93.53,304.60 L94.27,304.50 L95.02,304.39 L95.77,304.28 L96.51,304.16 L97.26,304.05 L98.00,303.93 L98.75,303.81 L99.49,303.69 L100.00,303.60 L100.24,303.56 L100.98,303.42 L101.73,303.27 L102.48,303.11 L103.22,302.95 L103.97,302.77 L104.71,302.58 L105.46,302.38 L106.20,302.18 L106.95,301.98 L107.70,301.77 L108.44,301.55 L109.19,301.33 L109.93,301.11 L110.30,301.00 L110.68,300.89 L111.42,300.66 L112.17,300.42 L112.92,300.17 L113.66,299.91 L114.41,299.64 L115.15,299.35 L115.90,299.04 L116.00,299.00 L116.64,298.73 L117.39,298.40 L118.13,298.03 L118.88,297.61 L119.50,297.20 L119.63,297.11 L120.37,296.49 L121.12,295.67 L121.60,295.00 L121.86,294.52 L122.61,292.58 L122.80,292.00 L123.35,289.95 L123.60,289.00 L124.10,287.20 L124.70,290.00 L125.30,294.00 L125.90,297.40 L126.64,296.05 L127.00,295.40 L127.39,294.70 L128.13,293.37 L128.40,292.90 L128.87,292.13 L129.61,290.99 L130.00,290.40 L130.36,289.87 L131.10,288.77 L131.84,287.72 L132.00,287.50 L132.58,286.73 L133.33,285.80 L134.07,284.91 L134.50,284.40 L134.81,284.04 L135.55,283.19 L136.30,282.37 L137.04,281.57 L137.78,280.82 L138.00,280.60 L138.52,280.10 L139.27,279.41 L140.01,278.76 L140.75,278.13 L141.40,277.60 L141.49,277.53 L142.24,276.94 L142.98,276.38 L143.72,275.84 L144.46,275.34 L145.00,275.00 L145.21,274.88 L145.95,274.45 L146.69,274.05 L147.43,273.68 L148.18,273.31 L148.92,272.94 L149.66,272.57 L150.00,272.40 L150.40,272.19 L151.15,271.81 L151.89,271.43 L152.63,271.05 L153.37,270.66 L154.12,270.28 L154.86,269.90 L155.60,269.51 L156.00,269.30 L156.34,269.12 L157.09,268.72 L157.83,268.33 L158.57,267.92 L159.31,267.52 L160.06,267.12 L160.80,266.71 L161.54,266.31 L162.28,265.91 L163.03,265.51 L163.77,265.12 L164.00,265.00 L164.51,264.73 L165.25,264.34 L166.00,263.95 L166.74,263.56 L167.48,263.18 L168.22,262.79 L168.97,262.41 L169.71,262.03 L170.45,261.66 L171.19,261.29 L171.94,260.93 L172.00,260.90 L172.68,260.57 L173.42,260.22 L174.16,259.87 L174.91,259.52 L175.65,259.18 L176.39,258.84 L177.13,258.50 L177.88,258.16 L178.62,257.83 L179.36,257.51 L180.10,257.18 L180.85,256.87 L181.00,256.80 L181.59,256.55 L182.33,256.24 L183.07,255.93 L183.82,255.62 L184.56,255.32 L185.30,255.01 L186.04,254.72 L186.79,254.42 L187.53,254.13 L188.27,253.84 L189.01,253.56 L189.76,253.28 L190.50,253.00 L191.24,253.28 L191.99,253.56 L192.73,253.84 L193.47,254.13 L194.21,254.42 L194.96,254.72 L195.70,255.01 L196.44,255.32 L197.18,255.62 L197.93,255.93 L198.67,256.24 L199.41,256.55 L200.00,256.80 L200.15,256.87 L200.90,257.18 L201.64,257.51 L202.38,257.83 L203.12,258.16 L203.87,258.50 L204.61,258.84 L205.35,259.18 L206.09,259.52 L206.84,259.87 L207.58,260.22 L208.32,260.57 L209.00,260.90 L209.06,260.93 L209.81,261.29 L210.55,261.66 L211.29,262.03 L212.03,262.41 L212.78,262.79 L213.52,263.18 L214.26,263.56 L215.00,263.95 L215.75,264.34 L216.49,264.73 L217.00,265.00 L217.23,265.12 L217.97,265.51 L218.72,265.91 L219.46,266.31 L220.20,266.71 L220.94,267.12 L221.69,267.52 L222.43,267.92 L223.17,268.33 L223.91,268.72 L224.66,269.12 L225.00,269.30 L225.40,269.51 L226.14,269.90 L226.88,270.28 L227.63,270.66 L228.37,271.05 L229.11,271.43 L229.85,271.81 L230.60,272.19 L231.00,272.40 L231.34,272.57 L232.08,272.94 L232.82,273.31 L233.57,273.68 L234.31,274.05 L235.05,274.45 L235.79,274.88 L236.00,275.00 L236.54,275.34 L237.28,275.84 L238.02,276.38 L238.76,276.94 L239.51,277.53 L239.60,277.60 L240.25,278.13 L240.99,278.76 L241.73,279.41 L242.48,280.10 L243.00,280.60 L243.22,280.82 L243.96,281.57 L244.70,282.37 L245.45,283.19 L246.19,284.04 L246.50,284.40 L246.93,284.91 L247.67,285.80 L248.42,286.73 L249.00,287.50 L249.16,287.72 L249.90,288.77 L250.64,289.87 L251.00,290.40 L251.39,290.99 L252.13,292.13 L252.60,292.90 L252.87,293.37 L253.61,294.70 L254.00,295.40 L254.36,296.05 L255.10,297.40 L255.70,294.00 L256.30,290.00 L256.90,287.20 L257.40,289.00 L257.65,289.95 L258.20,292.00 L258.39,292.58 L259.14,294.52 L259.40,295.00 L259.88,295.67 L260.63,296.49 L261.37,297.11 L261.50,297.20 L262.12,297.61 L262.87,298.03 L263.61,298.40 L264.36,298.73 L265.00,299.00 L265.10,299.04 L265.85,299.35 L266.59,299.64 L267.34,299.91 L268.08,300.17 L268.83,300.42 L269.58,300.66 L270.32,300.89 L270.70,301.00 L271.07,301.11 L271.81,301.33 L272.56,301.55 L273.30,301.77 L274.05,301.98 L274.80,302.18 L275.54,302.38 L276.29,302.58 L277.03,302.77 L277.78,302.95 L278.52,303.11 L279.27,303.27 L280.02,303.42 L280.76,303.56 L281.00,303.60 L281.51,303.69 L282.25,303.81 L283.00,303.93 L283.74,304.05 L284.49,304.16 L285.23,304.28 L285.98,304.39 L286.73,304.50 L287.47,304.60 L288.22,304.71 L288.96,304.81 L289.71,304.91 L290.45,305.00 L291.20,305.09 L291.95,305.18 L292.69,305.27 L293.44,305.35 L294.18,305.43 L294.93,305.51 L295.67,305.58 L296.42,305.65 L297.17,305.71 L297.91,305.78 L298.66,305.84 L299.40,305.89 L300.15,305.94 L300.89,305.99 L301.00,306.00 L301.64,306.04 L302.38,306.09 L303.13,306.13 L303.88,306.18 L304.62,306.22 L305.37,306.27 L306.11,306.31 L306.86,306.35 L307.60,306.40 L308.35,306.44 L309.10,306.48 L309.84,306.52 L310.59,306.56 L311.33,306.60 L312.08,306.63 L312.82,306.67 L313.57,306.70 L314.32,306.74 L315.06,306.77 L315.81,306.80 L316.55,306.83 L317.30,306.85 L318.04,306.88 L318.79,306.90 L319.53,306.92 L320.28,306.94 L321.03,306.95 L321.77,306.97 L322.52,306.98 L323.26,306.99 L324.01,306.99 L324.75,307.00 L325.50,307.00" fill="none" stroke="#A43CFF" stroke-width="2.75" stroke-dasharray="10 2.9 4.6 2.9" stroke-linejoin="round" />
</g>
<g clip-path="url(#cd)">
<path d="M409.5,389.5 H679.5" stroke="#000000" stroke-width="2.75" fill="none"/>
<path d="M409.50,388.60 L410.25,388.56 L411.00,388.53 L411.75,388.49 L412.50,388.46 L413.25,388.42 L414.00,388.38 L414.75,388.35 L415.50,388.31 L416.25,388.27 L417.00,388.23 L417.75,388.19 L418.50,388.15 L419.25,388.11 L420.00,388.07 L420.75,388.03 L421.50,387.99 L422.25,387.95 L423.00,387.91 L423.75,387.87 L424.50,387.82 L425.25,387.78 L426.00,387.74 L426.75,387.69 L427.50,387.65 L428.25,387.61 L429.00,387.56 L429.75,387.52 L430.50,387.47 L431.25,387.43 L432.00,387.38 L432.75,387.34 L433.50,387.29 L434.25,387.25 L435.00,387.20 L435.75,387.15 L436.50,387.11 L437.25,387.06 L438.00,387.01 L438.75,386.96 L439.50,386.91 L440.25,386.86 L441.00,386.81 L441.75,386.76 L442.50,386.71 L443.25,386.66 L444.00,386.61 L444.75,386.55 L445.50,386.50 L446.25,386.45 L447.00,386.39 L447.75,386.34 L448.50,386.28 L449.25,386.23 L450.00,386.17 L450.75,386.12 L451.50,386.06 L452.25,386.01 L453.00,385.95 L453.75,385.89 L454.50,385.84 L455.00,385.80 L455.25,385.78 L456.00,385.72 L456.75,385.67 L457.50,385.61 L458.25,385.55 L459.00,385.49 L459.75,385.43 L460.50,385.36 L461.25,385.30 L462.00,385.24 L462.75,385.18 L463.50,385.11 L464.25,385.05 L465.00,384.99 L465.75,384.92 L466.00,384.90 L466.50,384.86 L467.25,384.80 L468.00,384.74 L468.75,384.68 L469.50,384.62 L470.25,384.55 L471.00,384.46 L471.50,384.40 L471.75,384.36 L472.50,384.22 L473.25,384.04 L474.00,383.85 L474.75,383.66 L475.50,383.50 L476.25,383.33 L477.00,383.18 L477.75,383.10 L477.80,383.10 L478.50,383.26 L479.25,383.68 L480.00,384.18 L480.20,384.30 L480.75,384.74 L481.50,385.46 L482.25,385.96 L482.50,386.00 L483.00,385.97 L483.75,385.84 L484.50,385.63 L484.60,385.60 L485.25,385.25 L486.00,384.60 L486.75,383.85 L486.80,383.80 L487.50,383.07 L488.25,382.19 L489.00,381.24 L489.40,380.70 L489.75,380.21 L490.50,379.08 L491.25,377.86 L492.00,376.60 L492.75,375.31 L493.50,373.96 L494.25,372.51 L494.60,371.80 L495.00,370.95 L495.75,369.29 L496.50,367.50 L497.25,365.56 L497.60,364.60 L498.00,363.41 L498.75,360.93 L499.50,358.34 L499.60,358.00 L500.25,355.76 L501.00,353.12 L501.60,351.00 L501.75,350.47 L502.50,347.82 L503.25,345.16 L504.00,342.50 L504.75,339.84 L505.50,337.18 L506.25,334.53 L506.40,334.00 L507.00,331.85 L507.75,329.18 L508.30,327.30 L508.50,326.64 L509.25,324.18 L510.00,321.93 L510.20,321.40 L510.75,320.04 L511.50,318.37 L512.10,317.20 L512.25,316.93 L513.00,315.65 L513.75,314.53 L514.00,314.20 L514.50,313.58 L515.25,312.73 L516.00,311.96 L516.75,311.23 L517.00,311.00 L517.50,310.54 L518.25,309.87 L519.00,309.25 L519.75,308.68 L520.00,308.50 L520.50,308.17 L521.25,307.70 L522.00,307.27 L522.75,306.86 L523.50,306.46 L524.00,306.20 L524.25,306.07 L525.00,305.72 L525.75,305.39 L526.50,305.07 L527.25,304.71 L528.00,304.30 L528.75,303.81 L529.50,303.25 L530.25,302.64 L531.00,302.00 L531.75,301.30 L532.50,300.54 L533.25,299.75 L534.00,299.00 L534.75,298.27 L535.50,297.55 L536.25,296.85 L537.00,296.20 L537.75,295.60 L538.50,295.04 L539.25,294.51 L540.00,294.00 L540.75,293.52 L541.50,293.07 L542.25,292.64 L542.50,292.50 L543.00,292.23 L543.75,291.85 L544.50,291.50 L545.25,291.85 L546.00,292.23 L546.50,292.50 L546.75,292.64 L547.50,293.07 L548.25,293.52 L549.00,294.00 L549.75,294.51 L550.50,295.04 L551.25,295.60 L552.00,296.20 L552.75,296.85 L553.50,297.55 L554.25,298.27 L555.00,299.00 L555.75,299.75 L556.50,300.54 L557.25,301.30 L558.00,302.00 L558.75,302.64 L559.50,303.25 L560.25,303.81 L561.00,304.30 L561.75,304.71 L562.50,305.07 L563.25,305.39 L564.00,305.72 L564.75,306.07 L565.00,306.20 L565.50,306.46 L566.25,306.86 L567.00,307.27 L567.75,307.70 L568.50,308.17 L569.00,308.50 L569.25,308.68 L570.00,309.25 L570.75,309.87 L571.50,310.54 L572.00,311.00 L572.25,311.23 L573.00,311.96 L573.75,312.73 L574.50,313.58 L575.00,314.20 L575.25,314.53 L576.00,315.65 L576.75,316.93 L576.90,317.20 L577.50,318.37 L578.25,320.04 L578.80,321.40 L579.00,321.93 L579.75,324.18 L580.50,326.64 L580.70,327.30 L581.25,329.18 L582.00,331.85 L582.60,334.00 L582.75,334.53 L583.50,337.18 L584.25,339.84 L585.00,342.50 L585.75,345.16 L586.50,347.82 L587.25,350.47 L587.40,351.00 L588.00,353.12 L588.75,355.76 L589.40,358.00 L589.50,358.34 L590.25,360.93 L591.00,363.41 L591.40,364.60 L591.75,365.56 L592.50,367.50 L593.25,369.29 L594.00,370.95 L594.40,371.80 L594.75,372.51 L595.50,373.96 L596.25,375.31 L597.00,376.60 L597.75,377.86 L598.50,379.08 L599.25,380.21 L599.60,380.70 L600.00,381.24 L600.75,382.19 L601.50,383.07 L602.20,383.80 L602.25,383.85 L603.00,384.60 L603.75,385.25 L604.40,385.60 L604.50,385.63 L605.25,385.84 L606.00,385.97 L606.50,386.00 L606.75,385.96 L607.50,385.46 L608.25,384.74 L608.80,384.30 L609.00,384.18 L609.75,383.68 L610.50,383.26 L611.20,383.10 L611.25,383.10 L612.00,383.18 L612.75,383.33 L613.50,383.50 L614.25,383.66 L615.00,383.85 L615.75,384.04 L616.50,384.22 L617.25,384.36 L617.50,384.40 L618.00,384.46 L618.75,384.55 L619.50,384.62 L620.25,384.68 L621.00,384.74 L621.75,384.80 L622.50,384.86 L623.00,384.90 L623.25,384.92 L624.00,384.99 L624.75,385.05 L625.50,385.11 L626.25,385.18 L627.00,385.24 L627.75,385.30 L628.50,385.36 L629.25,385.43 L630.00,385.49 L630.75,385.55 L631.50,385.61 L632.25,385.67 L633.00,385.72 L633.75,385.78 L634.00,385.80 L634.50,385.84 L635.25,385.89 L636.00,385.95 L636.75,386.01 L637.50,386.06 L638.25,386.12 L639.00,386.17 L639.75,386.23 L640.50,386.28 L641.25,386.34 L642.00,386.39 L642.75,386.45 L643.50,386.50 L644.25,386.55 L645.00,386.61 L645.75,386.66 L646.50,386.71 L647.25,386.76 L648.00,386.81 L648.75,386.86 L649.50,386.91 L650.25,386.96 L651.00,387.01 L651.75,387.06 L652.50,387.11 L653.25,387.15 L654.00,387.20 L654.75,387.25 L655.50,387.29 L656.25,387.34 L657.00,387.38 L657.75,387.43 L658.50,387.47 L659.25,387.52 L660.00,387.56 L660.75,387.61 L661.50,387.65 L662.25,387.69 L663.00,387.74 L663.75,387.78 L664.50,387.82 L665.25,387.87 L666.00,387.91 L666.75,387.95 L667.50,387.99 L668.25,388.03 L669.00,388.07 L669.75,388.11 L670.50,388.15 L671.25,388.19 L672.00,388.23 L672.75,388.27 L673.50,388.31 L674.25,388.35 L675.00,388.38 L675.75,388.42 L676.50,388.46 L677.25,388.49 L678.00,388.53 L678.75,388.56 L679.50,388.60" fill="none" stroke="#FF00FF" stroke-width="2.75" stroke-dasharray="0.00 0.10 9.91 9.82 9.92 9.82 9.93 9.83 10.09 11.22 10.13 6.75 6.13 6.38 8.00 9.88 8.88 9.25 8.50 7.20 9.37 10.92 9.33 7.43 11.87 8.82 8.78 7.53 7.00 7.50 11.00 9.75 11.25 7.75 9.38 7.18 11.42 9.45 9.83 9.93 10.52 9.22 10.52 2000.00" stroke-linejoin="round" />
<path d="M409.50,386.40 L410.25,386.37 L411.00,386.33 L411.75,386.28 L412.50,386.24 L413.25,386.19 L414.00,386.13 L414.75,386.07 L415.50,386.01 L416.25,385.95 L416.99,385.88 L417.74,385.81 L418.49,385.73 L419.24,385.66 L419.99,385.58 L420.74,385.50 L421.49,385.41 L422.24,385.33 L422.99,385.24 L423.74,385.15 L424.49,385.06 L425.00,385.00 L425.24,384.97 L425.99,384.87 L426.74,384.77 L427.49,384.66 L428.24,384.55 L428.99,384.42 L429.74,384.30 L430.49,384.17 L431.24,384.03 L431.98,383.89 L432.73,383.75 L433.48,383.60 L434.23,383.45 L434.98,383.29 L435.73,383.13 L436.48,382.97 L437.23,382.81 L437.98,382.64 L438.73,382.47 L439.48,382.30 L440.23,382.13 L440.98,381.95 L441.73,381.78 L442.48,381.60 L443.23,381.42 L443.98,381.24 L444.73,381.07 L445.00,381.00 L445.48,380.89 L446.22,380.71 L446.97,380.52 L447.72,380.33 L448.47,380.14 L449.22,379.95 L449.97,379.74 L450.72,379.54 L451.47,379.32 L452.22,379.10 L452.97,378.87 L453.72,378.63 L454.47,378.38 L455.00,378.20 L455.22,378.12 L455.97,377.85 L456.72,377.55 L457.47,377.24 L458.22,376.91 L458.97,376.57 L459.72,376.22 L460.46,375.86 L461.00,375.60 L461.21,375.49 L461.96,375.11 L462.71,374.72 L463.46,374.30 L464.21,373.88 L464.96,373.43 L465.71,372.98 L466.00,372.80 L466.46,372.51 L467.21,372.00 L467.96,371.47 L468.71,370.93 L469.46,370.39 L470.21,369.85 L470.96,369.33 L471.00,369.30 L471.71,368.82 L472.46,368.31 L473.21,367.81 L473.96,367.33 L474.50,367.00 L474.71,366.88 L475.45,366.46 L476.20,366.06 L476.95,365.67 L477.70,365.27 L478.00,365.10 L478.45,364.83 L479.20,364.36 L479.95,363.91 L480.50,363.60 L480.70,363.50 L481.45,363.13 L482.20,362.80 L482.90,359.50 L482.94,359.19 L483.40,354.00 L483.68,351.44 L484.20,347.50 L484.43,346.08 L485.17,342.08 L485.50,340.50 L485.91,338.69 L486.65,335.73 L487.00,334.50 L487.39,333.21 L488.13,330.94 L488.88,328.87 L489.62,326.95 L490.00,326.00 L490.36,325.15 L491.10,323.49 L491.84,321.93 L492.58,320.43 L493.00,319.60 L493.32,318.95 L494.07,317.50 L494.81,316.08 L495.55,314.71 L496.29,313.37 L496.50,313.00 L497.03,312.06 L497.77,310.78 L498.52,309.53 L499.26,308.33 L500.00,307.20 L500.74,306.13 L501.48,305.10 L502.22,304.11 L502.97,303.14 L503.71,302.21 L504.45,301.28 L505.00,300.60 L505.19,300.36 L505.93,299.47 L506.68,298.61 L507.42,297.76 L508.16,296.92 L508.90,296.07 L509.64,295.22 L510.00,294.80 L510.38,294.35 L511.12,293.46 L511.87,292.58 L512.61,291.68 L513.35,290.79 L514.09,289.89 L514.83,288.99 L515.58,288.10 L516.32,287.21 L517.00,286.40 L517.06,286.33 L517.80,285.45 L518.54,284.57 L519.28,283.70 L520.02,282.82 L520.77,281.95 L521.51,281.08 L522.25,280.22 L522.99,279.36 L523.73,278.51 L524.00,278.20 L524.48,277.66 L525.22,276.81 L525.96,275.98 L526.70,275.14 L527.44,274.31 L528.18,273.49 L528.92,272.67 L529.67,271.86 L530.00,271.50 L530.41,271.06 L531.15,270.26 L531.89,269.47 L532.63,268.68 L533.38,267.90 L534.12,267.12 L534.86,266.36 L535.60,265.60 L536.00,265.20 L536.34,264.86 L537.08,264.12 L537.83,263.39 L538.57,262.67 L539.31,261.97 L540.05,261.27 L540.79,260.59 L541.00,260.40 L541.53,259.92 L542.27,259.27 L543.02,258.63 L543.76,258.01 L544.50,257.40 L545.24,258.01 L545.98,258.63 L546.73,259.27 L547.47,259.92 L548.00,260.40 L548.21,260.59 L548.95,261.27 L549.69,261.97 L550.43,262.67 L551.17,263.39 L551.92,264.12 L552.66,264.86 L553.00,265.20 L553.40,265.60 L554.14,266.36 L554.88,267.12 L555.62,267.90 L556.37,268.68 L557.11,269.47 L557.85,270.26 L558.59,271.06 L559.00,271.50 L559.33,271.86 L560.08,272.67 L560.82,273.49 L561.56,274.31 L562.30,275.14 L563.04,275.98 L563.78,276.81 L564.52,277.66 L565.00,278.20 L565.27,278.51 L566.01,279.36 L566.75,280.22 L567.49,281.08 L568.23,281.95 L568.98,282.82 L569.72,283.70 L570.46,284.57 L571.20,285.45 L571.94,286.33 L572.00,286.40 L572.68,287.21 L573.42,288.10 L574.17,288.99 L574.91,289.89 L575.65,290.79 L576.39,291.68 L577.13,292.58 L577.88,293.46 L578.62,294.35 L579.00,294.80 L579.36,295.22 L580.10,296.07 L580.84,296.92 L581.58,297.76 L582.33,298.61 L583.07,299.47 L583.81,300.36 L584.00,300.60 L584.55,301.28 L585.29,302.21 L586.03,303.14 L586.78,304.11 L587.52,305.10 L588.26,306.13 L589.00,307.20 L589.74,308.33 L590.48,309.53 L591.23,310.78 L591.97,312.06 L592.50,313.00 L592.71,313.37 L593.45,314.71 L594.19,316.08 L594.93,317.50 L595.67,318.95 L596.00,319.60 L596.42,320.43 L597.16,321.93 L597.90,323.49 L598.64,325.15 L599.00,326.00 L599.38,326.95 L600.12,328.87 L600.87,330.94 L601.61,333.21 L602.00,334.50 L602.35,335.73 L603.09,338.69 L603.50,340.50 L603.83,342.08 L604.58,346.08 L604.80,347.50 L605.32,351.44 L605.60,354.00 L606.06,359.19 L606.10,359.50 L606.80,362.80 L607.55,363.13 L608.30,363.50 L608.50,363.60 L609.05,363.91 L609.80,364.36 L610.55,364.83 L611.00,365.10 L611.30,365.27 L612.05,365.67 L612.80,366.06 L613.55,366.46 L614.29,366.88 L614.50,367.00 L615.04,367.33 L615.79,367.81 L616.54,368.31 L617.29,368.82 L618.00,369.30 L618.04,369.33 L618.79,369.85 L619.54,370.39 L620.29,370.93 L621.04,371.47 L621.79,372.00 L622.54,372.51 L623.00,372.80 L623.29,372.98 L624.04,373.43 L624.79,373.88 L625.54,374.30 L626.29,374.72 L627.04,375.11 L627.79,375.49 L628.00,375.60 L628.54,375.86 L629.28,376.22 L630.03,376.57 L630.78,376.91 L631.53,377.24 L632.28,377.55 L633.03,377.85 L633.78,378.12 L634.00,378.20 L634.53,378.38 L635.28,378.63 L636.03,378.87 L636.78,379.10 L637.53,379.32 L638.28,379.54 L639.03,379.74 L639.78,379.95 L640.53,380.14 L641.28,380.33 L642.03,380.52 L642.78,380.71 L643.52,380.89 L644.00,381.00 L644.27,381.07 L645.02,381.24 L645.77,381.42 L646.52,381.60 L647.27,381.78 L648.02,381.95 L648.77,382.13 L649.52,382.30 L650.27,382.47 L651.02,382.64 L651.77,382.81 L652.52,382.97 L653.27,383.13 L654.02,383.29 L654.77,383.45 L655.52,383.60 L656.27,383.75 L657.02,383.89 L657.76,384.03 L658.51,384.17 L659.26,384.30 L660.01,384.42 L660.76,384.55 L661.51,384.66 L662.26,384.77 L663.01,384.87 L663.76,384.97 L664.00,385.00 L664.51,385.06 L665.26,385.15 L666.01,385.24 L666.76,385.33 L667.51,385.41 L668.26,385.50 L669.01,385.58 L669.76,385.66 L670.51,385.73 L671.26,385.81 L672.01,385.88 L672.75,385.95 L673.50,386.01 L674.25,386.07 L675.00,386.13 L675.75,386.19 L676.50,386.24 L677.25,386.28 L678.00,386.33 L678.75,386.37 L679.50,386.40" fill="none" stroke="#00F000" stroke-width="2.75" stroke-dasharray="2.7 2.4" stroke-linejoin="round" />
<path d="M409.50,385.00 L410.24,384.94 L410.99,384.88 L411.73,384.82 L412.48,384.75 L413.22,384.68 L413.96,384.60 L414.71,384.53 L415.45,384.45 L416.20,384.36 L416.94,384.28 L417.68,384.19 L418.43,384.10 L419.17,384.00 L419.92,383.91 L420.66,383.81 L421.41,383.71 L422.15,383.61 L422.89,383.50 L423.64,383.40 L424.38,383.29 L425.00,383.20 L425.13,383.18 L425.87,383.07 L426.61,382.95 L427.36,382.84 L428.10,382.71 L428.85,382.59 L429.59,382.46 L430.33,382.33 L431.08,382.20 L431.82,382.06 L432.57,381.92 L433.31,381.77 L434.05,381.62 L434.80,381.47 L435.54,381.31 L436.29,381.15 L437.03,380.99 L437.78,380.82 L438.52,380.65 L439.26,380.48 L440.01,380.30 L440.75,380.12 L441.50,379.93 L442.24,379.74 L442.98,379.55 L443.73,379.35 L444.47,379.15 L445.00,379.00 L445.22,378.94 L445.96,378.72 L446.70,378.50 L447.45,378.26 L448.19,378.02 L448.94,377.77 L449.68,377.50 L450.42,377.23 L451.17,376.95 L451.91,376.66 L452.66,376.36 L453.40,376.06 L454.15,375.74 L454.89,375.42 L455.63,375.09 L456.38,374.75 L457.12,374.41 L457.87,374.05 L458.61,373.69 L459.00,373.50 L459.35,373.32 L460.10,372.93 L460.84,372.51 L461.59,372.07 L462.33,371.61 L463.07,371.12 L463.82,370.62 L464.56,370.11 L465.00,369.80 L465.31,369.58 L466.05,369.02 L466.79,368.43 L467.54,367.81 L468.28,367.16 L469.00,366.50 L469.03,366.47 L469.77,365.76 L470.52,365.01 L471.26,364.19 L472.00,363.30 L472.00,363.30 L472.75,362.32 L473.49,361.24 L474.24,359.99 L474.50,359.50 L474.98,358.53 L475.72,356.73 L476.30,355.00 L476.47,354.40 L477.21,350.98 L477.50,349.50 L477.96,346.96 L478.20,345.50 L478.70,342.30 L479.27,345.31 L479.30,345.50 L479.83,348.67 L479.90,349.00 L480.40,351.00 L481.15,348.54 L481.30,348.00 L481.89,345.79 L482.50,343.50 L482.64,343.02 L483.38,340.54 L484.00,338.50 L484.13,338.07 L484.87,335.50 L485.62,332.92 L486.36,330.44 L486.50,330.00 L487.11,328.08 L487.85,325.79 L488.60,323.66 L489.00,322.60 L489.34,321.74 L490.09,320.00 L490.83,318.37 L491.58,316.84 L492.00,316.00 L492.33,315.36 L493.07,313.96 L493.82,312.63 L494.56,311.34 L495.00,310.60 L495.31,310.09 L496.05,308.86 L496.80,307.66 L497.54,306.49 L498.29,305.35 L499.03,304.23 L499.78,303.12 L500.00,302.80 L500.52,302.04 L501.27,300.98 L502.02,299.94 L502.76,298.92 L503.51,297.92 L504.25,296.92 L505.00,295.93 L505.74,294.94 L506.00,294.60 L506.49,293.96 L507.23,292.98 L507.98,292.00 L508.72,291.04 L509.47,290.08 L510.21,289.13 L510.96,288.18 L511.70,287.23 L512.45,286.29 L513.00,285.60 L513.20,285.35 L513.94,284.41 L514.69,283.47 L515.43,282.53 L516.18,281.60 L516.92,280.67 L517.67,279.76 L518.41,278.85 L519.16,277.97 L519.90,277.11 L520.00,277.00 L520.65,276.27 L521.39,275.44 L522.14,274.63 L522.88,273.83 L523.63,273.04 L524.38,272.26 L525.12,271.50 L525.87,270.74 L526.61,269.99 L527.00,269.60 L527.36,269.25 L528.10,268.52 L528.85,267.81 L529.59,267.11 L530.34,266.41 L531.08,265.72 L531.83,265.03 L532.57,264.34 L533.32,263.64 L534.00,263.00 L534.07,262.94 L534.81,262.23 L535.56,261.51 L536.30,260.79 L537.05,260.07 L537.79,259.36 L538.54,258.64 L539.00,258.20 L539.28,257.93 L540.03,257.22 L540.77,256.51 L541.52,255.81 L542.26,255.10 L543.01,254.40 L543.75,253.70 L544.50,253.00 L545.25,253.70 L545.99,254.40 L546.74,255.10 L547.48,255.81 L548.23,256.51 L548.97,257.22 L549.72,257.93 L550.00,258.20 L550.46,258.64 L551.21,259.36 L551.95,260.07 L552.70,260.79 L553.44,261.51 L554.19,262.23 L554.93,262.94 L555.00,263.00 L555.68,263.64 L556.43,264.34 L557.17,265.03 L557.92,265.72 L558.66,266.41 L559.41,267.11 L560.15,267.81 L560.90,268.52 L561.64,269.25 L562.00,269.60 L562.39,269.99 L563.13,270.74 L563.88,271.50 L564.62,272.26 L565.37,273.04 L566.12,273.83 L566.86,274.63 L567.61,275.44 L568.35,276.27 L569.00,277.00 L569.10,277.11 L569.84,277.97 L570.59,278.85 L571.33,279.76 L572.08,280.67 L572.82,281.60 L573.57,282.53 L574.31,283.47 L575.06,284.41 L575.80,285.35 L576.00,285.60 L576.55,286.29 L577.30,287.23 L578.04,288.18 L578.79,289.13 L579.53,290.08 L580.28,291.04 L581.02,292.00 L581.77,292.98 L582.51,293.96 L583.00,294.60 L583.26,294.94 L584.00,295.93 L584.75,296.92 L585.49,297.92 L586.24,298.92 L586.98,299.94 L587.73,300.98 L588.48,302.04 L589.00,302.80 L589.22,303.12 L589.97,304.23 L590.71,305.35 L591.46,306.49 L592.20,307.66 L592.95,308.86 L593.69,310.09 L594.00,310.60 L594.44,311.34 L595.18,312.63 L595.93,313.96 L596.67,315.36 L597.00,316.00 L597.42,316.84 L598.17,318.37 L598.91,320.00 L599.66,321.74 L600.00,322.60 L600.40,323.66 L601.15,325.79 L601.89,328.08 L602.50,330.00 L602.64,330.44 L603.38,332.92 L604.13,335.50 L604.87,338.07 L605.00,338.50 L605.62,340.54 L606.36,343.02 L606.50,343.50 L607.11,345.79 L607.70,348.00 L607.85,348.54 L608.60,351.00 L609.10,349.00 L609.17,348.67 L609.70,345.50 L609.73,345.31 L610.30,342.30 L610.80,345.50 L611.04,346.96 L611.50,349.50 L611.79,350.98 L612.53,354.40 L612.70,355.00 L613.28,356.73 L614.02,358.53 L614.50,359.50 L614.76,359.99 L615.51,361.24 L616.25,362.32 L617.00,363.30 L617.00,363.30 L617.74,364.19 L618.48,365.01 L619.23,365.76 L619.97,366.47 L620.00,366.50 L620.72,367.16 L621.46,367.81 L622.21,368.43 L622.95,369.02 L623.69,369.58 L624.00,369.80 L624.44,370.11 L625.18,370.62 L625.93,371.12 L626.67,371.61 L627.41,372.07 L628.16,372.51 L628.90,372.93 L629.65,373.32 L630.00,373.50 L630.39,373.69 L631.13,374.05 L631.88,374.41 L632.62,374.75 L633.37,375.09 L634.11,375.42 L634.85,375.74 L635.60,376.06 L636.34,376.36 L637.09,376.66 L637.83,376.95 L638.58,377.23 L639.32,377.50 L640.06,377.77 L640.81,378.02 L641.55,378.26 L642.30,378.50 L643.04,378.72 L643.78,378.94 L644.00,379.00 L644.53,379.15 L645.27,379.35 L646.02,379.55 L646.76,379.74 L647.50,379.93 L648.25,380.12 L648.99,380.30 L649.74,380.48 L650.48,380.65 L651.22,380.82 L651.97,380.99 L652.71,381.15 L653.46,381.31 L654.20,381.47 L654.95,381.62 L655.69,381.77 L656.43,381.92 L657.18,382.06 L657.92,382.20 L658.67,382.33 L659.41,382.46 L660.15,382.59 L660.90,382.71 L661.64,382.84 L662.39,382.95 L663.13,383.07 L663.87,383.18 L664.00,383.20 L664.62,383.29 L665.36,383.40 L666.11,383.50 L666.85,383.61 L667.59,383.71 L668.34,383.81 L669.08,383.91 L669.83,384.00 L670.57,384.10 L671.32,384.19 L672.06,384.28 L672.80,384.36 L673.55,384.45 L674.29,384.53 L675.04,384.60 L675.78,384.68 L676.52,384.75 L677.27,384.82 L678.01,384.88 L678.76,384.94 L679.50,385.00" fill="none" stroke="#A43CFF" stroke-width="2.75" stroke-dasharray="10 2.9 4.6 2.9" stroke-linejoin="round" />
</g>
<rect x="611.0" y="10.4" width="65.0" height="61.199999999999996" fill="#ffffff"/>
<g stroke="#9c9c9c" stroke-width="0.85" fill="none">
<rect x="612.0" y="11.4" width="63.0" height="59.199999999999996"/>
<path d="M612.0,70.6 v-1.5 M612.0,11.4 v1.5"/>
<path d="M612.0,70.6 h1.5 M675.0,70.6 h-1.5"/>
<path d="M643.5,70.6 v-1.5 M643.5,11.4 v1.5"/>
<path d="M612.0,41.0 h1.5 M675.0,41.0 h-1.5"/>
<path d="M675.0,70.6 v-1.5 M675.0,11.4 v1.5"/>
<path d="M612.0,11.399999999999999 h1.5 M675.0,11.399999999999999 h-1.5"/>
</g>
<path d="M612.00,70.50 L612.25,70.50 L612.50,70.50 L612.75,70.50 L613.00,70.50 L613.25,70.50 L613.50,70.50 L613.75,70.50 L614.00,70.49 L614.25,70.49 L614.50,70.49 L614.75,70.49 L615.00,70.49 L615.25,70.48 L615.50,70.48 L615.75,70.48 L616.00,70.48 L616.25,70.47 L616.50,70.47 L616.75,70.47 L617.00,70.46 L617.25,70.46 L617.50,70.46 L617.75,70.45 L618.00,70.45 L618.25,70.44 L618.50,70.44 L618.75,70.43 L619.00,70.43 L619.25,70.42 L619.50,70.42 L619.75,70.41 L620.00,70.41 L620.25,70.40 L620.50,70.40 L620.75,70.39 L621.00,70.38 L621.25,70.38 L621.50,70.37 L621.75,70.37 L622.00,70.36 L622.25,70.35 L622.50,70.34 L622.75,70.34 L623.00,70.33 L623.25,70.32 L623.50,70.32 L623.75,70.31 L624.00,70.30 L624.25,70.29 L624.50,70.28 L624.75,70.27 L625.00,70.25 L625.25,70.23 L625.50,70.21 L625.75,70.19 L626.00,70.17 L626.25,70.14 L626.50,70.12 L626.75,70.09 L627.00,70.06 L627.25,70.03 L627.50,70.00 L627.75,69.97 L628.00,69.94 L628.25,69.90 L628.50,69.87 L628.75,69.83 L629.00,69.80 L629.25,69.76 L629.50,69.72 L629.75,69.68 L630.00,69.63 L630.25,69.58 L630.50,69.52 L630.75,69.47 L631.00,69.41 L631.25,69.35 L631.50,69.29 L631.75,69.22 L632.00,69.16 L632.25,69.09 L632.50,69.03 L632.75,68.96 L633.00,68.90 L633.25,68.84 L633.50,68.77 L633.75,68.70 L634.00,68.63 L634.25,68.56 L634.50,68.49 L634.75,68.41 L635.00,68.34 L635.25,68.26 L635.50,68.19 L635.75,68.11 L636.00,68.03 L636.25,67.95 L636.50,67.87 L636.75,67.79 L637.00,67.72 L637.25,67.64 L637.50,67.56 L637.75,67.48 L638.00,67.40 L638.25,67.32 L638.50,67.24 L638.75,67.16 L639.00,67.08 L639.25,67.00 L639.50,66.92 L639.75,66.84 L640.00,66.76 L640.25,66.68 L640.50,66.60 L640.75,66.52 L641.00,66.44 L641.25,66.36 L641.50,66.27 L641.75,66.19 L642.00,66.11 L642.25,66.02 L642.50,65.94 L642.75,65.85 L643.00,65.77 L643.25,65.69 L643.50,65.60 L643.75,65.69 L644.00,65.77 L644.25,65.85 L644.50,65.94 L644.75,66.02 L645.00,66.11 L645.25,66.19 L645.50,66.27 L645.75,66.36 L646.00,66.44 L646.25,66.52 L646.50,66.60 L646.75,66.68 L647.00,66.76 L647.25,66.84 L647.50,66.92 L647.75,67.00 L648.00,67.08 L648.25,67.16 L648.50,67.24 L648.75,67.32 L649.00,67.40 L649.25,67.48 L649.50,67.56 L649.75,67.64 L650.00,67.72 L650.25,67.79 L650.50,67.87 L650.75,67.95 L651.00,68.03 L651.25,68.11 L651.50,68.19 L651.75,68.26 L652.00,68.34 L652.25,68.41 L652.50,68.49 L652.75,68.56 L653.00,68.63 L653.25,68.70 L653.50,68.77 L653.75,68.84 L654.00,68.90 L654.25,68.96 L654.50,69.03 L654.75,69.09 L655.00,69.16 L655.25,69.22 L655.50,69.29 L655.75,69.35 L656.00,69.41 L656.25,69.47 L656.50,69.52 L656.75,69.58 L657.00,69.63 L657.25,69.68 L657.50,69.72 L657.75,69.76 L658.00,69.80 L658.25,69.83 L658.50,69.87 L658.75,69.90 L659.00,69.94 L659.25,69.97 L659.50,70.00 L659.75,70.03 L660.00,70.06 L660.25,70.09 L660.50,70.12 L660.75,70.14 L661.00,70.17 L661.25,70.19 L661.50,70.21 L661.75,70.23 L662.00,70.25 L662.25,70.27 L662.50,70.28 L662.75,70.29 L663.00,70.30 L663.25,70.31 L663.50,70.32 L663.75,70.32 L664.00,70.33 L664.25,70.34 L664.50,70.34 L664.75,70.35 L665.00,70.36 L665.25,70.37 L665.50,70.37 L665.75,70.38 L666.00,70.38 L666.25,70.39 L666.50,70.40 L666.75,70.40 L667.00,70.41 L667.25,70.41 L667.50,70.42 L667.75,70.42 L668.00,70.43 L668.25,70.43 L668.50,70.44 L668.75,70.44 L669.00,70.45 L669.25,70.45 L669.50,70.46 L669.75,70.46 L670.00,70.46 L670.25,70.47 L670.50,70.47 L670.75,70.47 L671.00,70.48 L671.25,70.48 L671.50,70.48 L671.75,70.48 L672.00,70.49 L672.25,70.49 L672.50,70.49 L672.75,70.49 L673.00,70.49 L673.25,70.50 L673.50,70.50 L673.75,70.50 L674.00,70.50 L674.25,70.50 L674.50,70.50 L674.75,70.50 L675.00,70.50" fill="none" stroke="#A43CFF" stroke-width="1.35" stroke-dasharray="5 1.3 2.4 1.3" stroke-linejoin="round" />
<path d="M612.00,70.40 L612.25,70.40 L612.50,70.40 L612.75,70.40 L613.00,70.40 L613.25,70.40 L613.50,70.39 L613.75,70.39 L614.00,70.39 L614.25,70.39 L614.50,70.39 L614.75,70.38 L615.00,70.38 L615.25,70.38 L615.50,70.37 L615.75,70.37 L616.00,70.36 L616.25,70.36 L616.50,70.36 L616.75,70.35 L617.00,70.35 L617.25,70.34 L617.50,70.34 L617.75,70.33 L618.00,70.32 L618.25,70.32 L618.50,70.31 L618.75,70.30 L619.00,70.30 L619.25,70.29 L619.50,70.28 L619.75,70.28 L620.00,70.27 L620.25,70.26 L620.50,70.25 L620.75,70.24 L621.00,70.24 L621.25,70.23 L621.50,70.22 L621.75,70.21 L622.00,70.20 L622.25,70.19 L622.50,70.18 L622.75,70.17 L623.00,70.15 L623.25,70.13 L623.50,70.12 L623.75,70.09 L624.00,70.07 L624.25,70.05 L624.50,70.02 L624.75,69.99 L625.00,69.96 L625.25,69.92 L625.50,69.88 L625.75,69.84 L626.00,69.80 L626.25,69.74 L626.50,69.66 L626.75,69.56 L627.00,69.44 L627.25,69.30 L627.50,69.14 L627.75,68.98 L628.00,68.80 L628.25,68.59 L628.50,68.33 L628.75,68.02 L629.00,67.69 L629.25,67.35 L629.50,67.00 L629.75,66.64 L630.00,66.24 L630.25,65.82 L630.50,65.40 L630.75,64.99 L631.00,64.60 L631.25,64.23 L631.50,63.87 L631.75,63.52 L632.00,63.17 L632.25,62.83 L632.50,62.49 L632.75,62.16 L633.00,61.82 L633.25,61.49 L633.50,61.16 L633.75,60.83 L634.00,60.50 L634.25,60.17 L634.50,59.84 L634.75,59.51 L635.00,59.18 L635.25,58.86 L635.50,58.53 L635.75,58.21 L636.00,57.89 L636.25,57.56 L636.50,57.24 L636.75,56.92 L637.00,56.60 L637.25,56.28 L637.50,55.96 L637.75,55.65 L638.00,55.33 L638.25,55.02 L638.50,54.70 L638.75,54.39 L639.00,54.07 L639.25,53.76 L639.50,53.44 L639.75,53.12 L640.00,52.80 L640.25,52.48 L640.50,52.16 L640.75,51.83 L641.00,51.51 L641.25,51.18 L641.50,50.86 L641.75,50.53 L642.00,50.20 L642.25,49.87 L642.50,49.54 L642.75,49.21 L643.00,48.87 L643.25,48.54 L643.50,48.20 L643.75,48.54 L644.00,48.87 L644.25,49.21 L644.50,49.54 L644.75,49.87 L645.00,50.20 L645.25,50.53 L645.50,50.86 L645.75,51.18 L646.00,51.51 L646.25,51.83 L646.50,52.16 L646.75,52.48 L647.00,52.80 L647.25,53.12 L647.50,53.44 L647.75,53.76 L648.00,54.07 L648.25,54.39 L648.50,54.70 L648.75,55.02 L649.00,55.33 L649.25,55.65 L649.50,55.96 L649.75,56.28 L650.00,56.60 L650.25,56.92 L650.50,57.24 L650.75,57.56 L651.00,57.89 L651.25,58.21 L651.50,58.53 L651.75,58.86 L652.00,59.18 L652.25,59.51 L652.50,59.84 L652.75,60.17 L653.00,60.50 L653.25,60.83 L653.50,61.16 L653.75,61.49 L654.00,61.82 L654.25,62.16 L654.50,62.49 L654.75,62.83 L655.00,63.17 L655.25,63.52 L655.50,63.87 L655.75,64.23 L656.00,64.60 L656.25,64.99 L656.50,65.40 L656.75,65.82 L657.00,66.24 L657.25,66.64 L657.50,67.00 L657.75,67.35 L658.00,67.69 L658.25,68.02 L658.50,68.33 L658.75,68.59 L659.00,68.80 L659.25,68.98 L659.50,69.14 L659.75,69.30 L660.00,69.44 L660.25,69.56 L660.50,69.66 L660.75,69.74 L661.00,69.80 L661.25,69.84 L661.50,69.88 L661.75,69.92 L662.00,69.96 L662.25,69.99 L662.50,70.02 L662.75,70.05 L663.00,70.07 L663.25,70.09 L663.50,70.12 L663.75,70.13 L664.00,70.15 L664.25,70.17 L664.50,70.18 L664.75,70.19 L665.00,70.20 L665.25,70.21 L665.50,70.22 L665.75,70.23 L666.00,70.24 L666.25,70.24 L666.50,70.25 L666.75,70.26 L667.00,70.27 L667.25,70.28 L667.50,70.28 L667.75,70.29 L668.00,70.30 L668.25,70.30 L668.50,70.31 L668.75,70.32 L669.00,70.32 L669.25,70.33 L669.50,70.34 L669.75,70.34 L670.00,70.35 L670.25,70.35 L670.50,70.36 L670.75,70.36 L671.00,70.36 L671.25,70.37 L671.50,70.37 L671.75,70.38 L672.00,70.38 L672.25,70.38 L672.50,70.39 L672.75,70.39 L673.00,70.39 L673.25,70.39 L673.50,70.39 L673.75,70.40 L674.00,70.40 L674.25,70.40 L674.50,70.40 L674.75,70.40 L675.00,70.40" fill="none" stroke="#00F000" stroke-width="1.35" stroke-dasharray="1.3 1.25" stroke-linejoin="round" />
<path d="M612.00,70.30 L612.25,70.30 L612.50,70.30 L612.75,70.30 L613.00,70.29 L613.25,70.29 L613.50,70.28 L613.75,70.27 L614.00,70.27 L614.25,70.26 L614.50,70.25 L614.75,70.24 L615.00,70.23 L615.25,70.22 L615.50,70.21 L615.75,70.19 L616.00,70.18 L616.25,70.17 L616.50,70.15 L616.75,70.14 L617.00,70.12 L617.25,70.10 L617.50,70.09 L617.75,70.07 L618.00,70.05 L618.25,70.03 L618.50,70.02 L618.75,70.00 L619.00,69.98 L619.25,69.96 L619.50,69.94 L619.75,69.92 L620.00,69.90 L620.25,69.88 L620.50,69.86 L620.75,69.83 L621.00,69.80 L621.25,69.77 L621.50,69.74 L621.75,69.71 L622.00,69.67 L622.25,69.63 L622.50,69.59 L622.75,69.55 L623.00,69.50 L623.25,69.45 L623.50,69.41 L623.75,69.35 L624.00,69.30 L624.25,69.24 L624.50,69.18 L624.75,69.11 L625.00,69.03 L625.25,68.95 L625.50,68.86 L625.75,68.76 L626.00,68.65 L626.25,68.53 L626.50,68.40 L626.75,68.25 L627.00,68.06 L627.25,67.84 L627.50,67.59 L627.75,67.31 L628.00,67.00 L628.25,66.67 L628.30,66.60 L628.50,66.28 L628.75,65.80 L629.00,65.25 L629.25,64.65 L629.50,64.04 L629.60,63.80 L629.75,63.43 L630.00,62.78 L630.25,62.09 L630.50,61.39 L630.75,60.69 L631.00,60.00 L631.25,59.32 L631.50,58.64 L631.75,57.96 L632.00,57.29 L632.25,56.61 L632.50,55.94 L632.75,55.27 L633.00,54.60 L633.25,53.94 L633.50,53.28 L633.75,52.62 L634.00,51.97 L634.25,51.32 L634.50,50.67 L634.75,50.02 L635.00,49.38 L635.25,48.73 L635.50,48.09 L635.75,47.44 L636.00,46.80 L636.25,46.16 L636.50,45.51 L636.75,44.87 L637.00,44.23 L637.25,43.60 L637.50,42.96 L637.75,42.32 L638.00,41.69 L638.25,41.05 L638.50,40.41 L638.75,39.78 L639.00,39.14 L639.25,38.51 L639.50,37.87 L639.75,37.24 L640.00,36.60 L640.25,35.96 L640.50,35.33 L640.75,34.69 L641.00,34.05 L641.25,33.42 L641.50,32.78 L641.75,32.15 L642.00,31.51 L642.25,30.88 L642.50,30.24 L642.75,29.61 L643.00,28.97 L643.25,28.33 L643.50,27.70 L643.75,28.33 L644.00,28.97 L644.25,29.61 L644.50,30.24 L644.75,30.88 L645.00,31.51 L645.25,32.15 L645.50,32.78 L645.75,33.42 L646.00,34.05 L646.25,34.69 L646.50,35.33 L646.75,35.96 L647.00,36.60 L647.25,37.24 L647.50,37.87 L647.75,38.51 L648.00,39.14 L648.25,39.78 L648.50,40.41 L648.75,41.05 L649.00,41.69 L649.25,42.32 L649.50,42.96 L649.75,43.60 L650.00,44.23 L650.25,44.87 L650.50,45.51 L650.75,46.16 L651.00,46.80 L651.25,47.44 L651.50,48.09 L651.75,48.73 L652.00,49.38 L652.25,50.02 L652.50,50.67 L652.75,51.32 L653.00,51.97 L653.25,52.62 L653.50,53.28 L653.75,53.94 L654.00,54.60 L654.25,55.27 L654.50,55.94 L654.75,56.61 L655.00,57.29 L655.25,57.96 L655.50,58.64 L655.75,59.32 L656.00,60.00 L656.25,60.69 L656.50,61.39 L656.75,62.09 L657.00,62.78 L657.25,63.43 L657.40,63.80 L657.50,64.04 L657.75,64.65 L658.00,65.25 L658.25,65.80 L658.50,66.28 L658.70,66.60 L658.75,66.67 L659.00,67.00 L659.25,67.31 L659.50,67.59 L659.75,67.84 L660.00,68.06 L660.25,68.25 L660.50,68.40 L660.75,68.53 L661.00,68.65 L661.25,68.76 L661.50,68.86 L661.75,68.95 L662.00,69.03 L662.25,69.11 L662.50,69.18 L662.75,69.24 L663.00,69.30 L663.25,69.35 L663.50,69.41 L663.75,69.45 L664.00,69.50 L664.25,69.55 L664.50,69.59 L664.75,69.63 L665.00,69.67 L665.25,69.71 L665.50,69.74 L665.75,69.77 L666.00,69.80 L666.25,69.83 L666.50,69.86 L666.75,69.88 L667.00,69.90 L667.25,69.92 L667.50,69.94 L667.75,69.96 L668.00,69.98 L668.25,70.00 L668.50,70.02 L668.75,70.03 L669.00,70.05 L669.25,70.07 L669.50,70.09 L669.75,70.10 L670.00,70.12 L670.25,70.14 L670.50,70.15 L670.75,70.17 L671.00,70.18 L671.25,70.19 L671.50,70.21 L671.75,70.22 L672.00,70.23 L672.25,70.24 L672.50,70.25 L672.75,70.26 L673.00,70.27 L673.25,70.27 L673.50,70.28 L673.75,70.29 L674.00,70.29 L674.25,70.30 L674.50,70.30 L674.75,70.30 L675.00,70.30" fill="none" stroke="#FF00FF" stroke-width="1.35" stroke-dasharray="5.2 4.6" stroke-linejoin="round" />
<path d="M612.00,70.10 L612.25,70.09 L612.50,70.08 L612.75,70.06 L613.00,70.05 L613.25,70.03 L613.50,70.02 L613.75,70.00 L614.00,69.98 L614.25,69.96 L614.50,69.94 L614.75,69.92 L615.00,69.90 L615.25,69.88 L615.50,69.85 L615.75,69.83 L616.00,69.81 L616.25,69.78 L616.50,69.76 L616.75,69.73 L617.00,69.71 L617.25,69.68 L617.50,69.65 L617.75,69.63 L618.00,69.60 L618.25,69.57 L618.50,69.54 L618.75,69.51 L619.00,69.48 L619.25,69.45 L619.50,69.42 L619.75,69.38 L620.00,69.35 L620.25,69.31 L620.50,69.27 L620.75,69.23 L621.00,69.19 L621.25,69.14 L621.50,69.10 L621.75,69.05 L622.00,69.00 L622.25,68.95 L622.50,68.89 L622.75,68.83 L623.00,68.77 L623.25,68.70 L623.50,68.63 L623.75,68.55 L624.00,68.47 L624.25,68.38 L624.50,68.29 L624.75,68.20 L625.00,68.10 L625.25,68.00 L625.50,67.89 L625.75,67.77 L626.00,67.64 L626.25,67.50 L626.50,67.34 L626.75,67.16 L627.00,66.97 L627.20,66.80 L627.25,66.75 L627.50,66.47 L627.75,66.11 L628.00,65.70 L628.25,65.25 L628.50,64.79 L628.60,64.60 L628.75,64.31 L629.00,63.78 L629.25,63.21 L629.50,62.61 L629.75,62.00 L630.00,61.40 L630.25,60.81 L630.50,60.21 L630.75,59.61 L631.00,58.99 L631.25,58.35 L631.50,57.68 L631.60,57.40 L631.75,56.97 L632.00,56.21 L632.25,55.41 L632.50,54.58 L632.75,53.73 L633.00,52.86 L633.25,51.99 L633.50,51.11 L633.75,50.25 L634.00,49.40 L634.25,48.56 L634.50,47.72 L634.75,46.88 L635.00,46.04 L635.25,45.20 L635.50,44.36 L635.75,43.52 L636.00,42.68 L636.25,41.83 L636.50,40.99 L636.75,40.15 L637.00,39.30 L637.25,38.45 L637.50,37.61 L637.75,36.76 L638.00,35.91 L638.25,35.06 L638.50,34.21 L638.75,33.36 L639.00,32.50 L639.25,31.65 L639.50,30.80 L639.75,29.95 L640.00,29.10 L640.25,28.25 L640.50,27.40 L640.75,26.55 L641.00,25.70 L641.25,24.85 L641.50,24.00 L641.75,23.15 L642.00,22.30 L642.25,21.45 L642.50,20.60 L642.75,19.75 L643.00,18.90 L643.25,18.05 L643.50,17.20 L643.75,18.05 L644.00,18.90 L644.25,19.75 L644.50,20.60 L644.75,21.45 L645.00,22.30 L645.25,23.15 L645.50,24.00 L645.75,24.85 L646.00,25.70 L646.25,26.55 L646.50,27.40 L646.75,28.25 L647.00,29.10 L647.25,29.95 L647.50,30.80 L647.75,31.65 L648.00,32.50 L648.25,33.36 L648.50,34.21 L648.75,35.06 L649.00,35.91 L649.25,36.76 L649.50,37.61 L649.75,38.45 L650.00,39.30 L650.25,40.15 L650.50,40.99 L650.75,41.83 L651.00,42.68 L651.25,43.52 L651.50,44.36 L651.75,45.20 L652.00,46.04 L652.25,46.88 L652.50,47.72 L652.75,48.56 L653.00,49.40 L653.25,50.25 L653.50,51.11 L653.75,51.99 L654.00,52.86 L654.25,53.73 L654.50,54.58 L654.75,55.41 L655.00,56.21 L655.25,56.97 L655.40,57.40 L655.50,57.68 L655.75,58.35 L656.00,58.99 L656.25,59.61 L656.50,60.21 L656.75,60.81 L657.00,61.40 L657.25,62.00 L657.50,62.61 L657.75,63.21 L658.00,63.78 L658.25,64.31 L658.40,64.60 L658.50,64.79 L658.75,65.25 L659.00,65.70 L659.25,66.11 L659.50,66.47 L659.75,66.75 L659.80,66.80 L660.00,66.97 L660.25,67.16 L660.50,67.34 L660.75,67.50 L661.00,67.64 L661.25,67.77 L661.50,67.89 L661.75,68.00 L662.00,68.10 L662.25,68.20 L662.50,68.29 L662.75,68.38 L663.00,68.47 L663.25,68.55 L663.50,68.63 L663.75,68.70 L664.00,68.77 L664.25,68.83 L664.50,68.89 L664.75,68.95 L665.00,69.00 L665.25,69.05 L665.50,69.10 L665.75,69.14 L666.00,69.19 L666.25,69.23 L666.50,69.27 L666.75,69.31 L667.00,69.35 L667.25,69.38 L667.50,69.42 L667.75,69.45 L668.00,69.48 L668.25,69.51 L668.50,69.54 L668.75,69.57 L669.00,69.60 L669.25,69.63 L669.50,69.65 L669.75,69.68 L670.00,69.71 L670.25,69.73 L670.50,69.76 L670.75,69.78 L671.00,69.81 L671.25,69.83 L671.50,69.85 L671.75,69.88 L672.00,69.90 L672.25,69.92 L672.50,69.94 L672.75,69.96 L673.00,69.98 L673.25,70.00 L673.50,70.02 L673.75,70.03 L674.00,70.05 L674.25,70.06 L674.50,70.08 L674.75,70.09 L675.00,70.10" fill="none" stroke="#000000" stroke-width="1.35" stroke-linejoin="round" />
<g fill="#1a1a1a" font-family="Liberation Sans, sans-serif" font-weight="bold" font-size="16.5" stroke="#1a1a1a" stroke-width="0.3">
<text x="55.20" y="197.4" text-anchor="middle">-2</text>
<text x="122.70" y="197.4" text-anchor="middle">-1</text>
<text x="190.50" y="197.4" text-anchor="middle">0</text>
<text x="258.00" y="197.4" text-anchor="middle">1</text>
<text x="325.50" y="197.4" text-anchor="middle">2</text>
<text x="409.20" y="197.4" text-anchor="middle">-2</text>
<text x="476.70" y="197.4" text-anchor="middle">-1</text>
<text x="544.50" y="197.4" text-anchor="middle">0</text>
<text x="612.00" y="197.4" text-anchor="middle">1</text>
<text x="679.50" y="197.4" text-anchor="middle">2</text>
<text x="55.20" y="412.3" text-anchor="middle">-2</text>
<text x="122.70" y="412.3" text-anchor="middle">-1</text>
<text x="190.50" y="412.3" text-anchor="middle">0</text>
<text x="258.00" y="412.3" text-anchor="middle">1</text>
<text x="325.50" y="412.3" text-anchor="middle">2</text>
<text x="409.20" y="412.3" text-anchor="middle">-2</text>
<text x="476.70" y="412.3" text-anchor="middle">-1</text>
<text x="544.50" y="412.3" text-anchor="middle">0</text>
<text x="612.00" y="412.3" text-anchor="middle">1</text>
<text x="679.50" y="412.3" text-anchor="middle">2</text>
<text x="50.2" y="179.90" text-anchor="end">0.6</text>
<text x="50.2" y="138.05" text-anchor="end">0.8</text>
<text x="50.2" y="96.20" text-anchor="end">1</text>
<text x="50.2" y="54.35" text-anchor="end">1.2</text>
<text x="50.2" y="12.70" text-anchor="end">1.4</text>
<text x="404.2" y="181.55" text-anchor="end">0</text>
<text x="404.2" y="125.20" text-anchor="end">0.4</text>
<text x="404.2" y="68.85" text-anchor="end">0.8</text>
<text x="404.2" y="12.70" text-anchor="end">1.2</text>
<text x="50.2" y="396.90" text-anchor="end">0</text>
<text x="50.2" y="312.45" text-anchor="end">0.5</text>
<text x="50.2" y="228.00" text-anchor="end">1</text>
<text x="404.2" y="396.90" text-anchor="end">0</text>
<text x="404.2" y="312.45" text-anchor="end">0.5</text>
<text x="404.2" y="228.00" text-anchor="end">1</text>
</g>
<text transform="translate(59.6,23.6) scale(1.045,1)" fill="#000" stroke="#000" stroke-width="0.22" font-family="Liberation Sans, sans-serif" font-weight="bold" font-size="20">(a)</text>
<text transform="translate(412.3,23.6) scale(1.045,1)" fill="#000" stroke="#000" stroke-width="0.22" font-family="Liberation Sans, sans-serif" font-weight="bold" font-size="20">(b)</text>
<text transform="translate(59.6,240.1) scale(1.045,1)" fill="#000" stroke="#000" stroke-width="0.22" font-family="Liberation Sans, sans-serif" font-weight="bold" font-size="20">(c)</text>
<text transform="translate(412.3,240.2) scale(1.045,1)" fill="#000" stroke="#000" stroke-width="0.22" font-family="Liberation Sans, sans-serif" font-weight="bold" font-size="20">(d)</text>
<text x="167.40" y="424.2" font-family="Liberation Sans, sans-serif" font-weight="bold" font-size="16.3" fill="#1a1a1a" stroke="#1a1a1a" stroke-width="0.3">E</text>
<path d="M178.00,425.0 L185.60,411.2" stroke="#1a1a1a" stroke-width="2.2" fill="none"/>
<path d="M189.50,425.50 L196.03,412.00 L203.40,425.50 Z M191.66,423.90 L199.79,423.90 L195.48,416.00 Z" fill="#1a1a1a" fill-rule="evenodd"/>
<text x="204.50" y="434.5" font-family="Liberation Sans, sans-serif" font-weight="bold" font-size="14.6" fill="#1a1a1a" stroke="#1a1a1a" stroke-width="0.2">0</text>
<text x="521.40" y="424.2" font-family="Liberation Sans, sans-serif" font-weight="bold" font-size="16.3" fill="#1a1a1a" stroke="#1a1a1a" stroke-width="0.3">E</text>
<path d="M532.00,425.0 L539.60,411.2" stroke="#1a1a1a" stroke-width="2.2" fill="none"/>
<path d="M543.50,425.50 L550.03,412.00 L557.40,425.50 Z M545.66,423.90 L553.79,423.90 L549.48,416.00 Z" fill="#1a1a1a" fill-rule="evenodd"/>
<text x="558.50" y="434.5" font-family="Liberation Sans, sans-serif" font-weight="bold" font-size="14.6" fill="#1a1a1a" stroke="#1a1a1a" stroke-width="0.2">0</text>
<text transform="translate(16.00,113.50) rotate(-90) scale(0.64,1)" font-family="Liberation Sans, sans-serif" font-weight="bold" font-size="19.0" fill="#1a1a1a" stroke="#1a1a1a" stroke-width="0.5">G</text>
<text transform="translate(24.90,104.02) rotate(-90) scale(0.92,1)" font-family="Liberation Sans, sans-serif" font-weight="bold" font-size="14.4" fill="#1a1a1a" stroke="#1a1a1a" stroke-width="0.2">e</text>
<path d="M16.4,94.80 L2.0,86.60" stroke="#1a1a1a" stroke-width="2.1" fill="none"/>
<text transform="translate(16.00,86.90) rotate(-90) scale(0.64,1)" font-family="Liberation Sans, sans-serif" font-weight="bold" font-size="19.0" fill="#1a1a1a" stroke="#1a1a1a" stroke-width="0.5">G</text>
<text transform="translate(24.60,76.17) rotate(-90) scale(1.0,1)" font-family="Liberation Sans, sans-serif" font-weight="bold" font-size="14.2" fill="#1a1a1a" stroke="#1a1a1a" stroke-width="0.2">0</text>
<text transform="translate(16.00,328.50) rotate(-90) scale(0.64,1)" font-family="Liberation Sans, sans-serif" font-weight="bold" font-size="19.0" fill="#1a1a1a" stroke="#1a1a1a" stroke-width="0.5">G</text>
<text transform="translate(24.90,319.02) rotate(-90) scale(0.92,1)" font-family="Liberation Sans, sans-serif" font-weight="bold" font-size="14.4" fill="#1a1a1a" stroke="#1a1a1a" stroke-width="0.2">e</text>
<path d="M16.4,309.80 L2.0,301.60" stroke="#1a1a1a" stroke-width="2.1" fill="none"/>
<text transform="translate(16.00,301.90) rotate(-90) scale(0.64,1)" font-family="Liberation Sans, sans-serif" font-weight="bold" font-size="19.0" fill="#1a1a1a" stroke="#1a1a1a" stroke-width="0.5">G</text>
<text transform="translate(24.60,291.17) rotate(-90) scale(1.0,1)" font-family="Liberation Sans, sans-serif" font-weight="bold" font-size="14.2" fill="#1a1a1a" stroke="#1a1a1a" stroke-width="0.2">0</text>
<text transform="translate(367.40,107.25) rotate(-90) scale(0.7,1)" font-family="Liberation Sans, sans-serif" font-weight="bold" font-size="19.3" fill="#1a1a1a" stroke="#1a1a1a" stroke-width="0.5">G</text>
<text transform="translate(377.00,96.30) rotate(-90) scale(0.72,1)" font-family="Liberation Sans, sans-serif" font-weight="bold" font-size="14.5" fill="#1a1a1a" stroke="#1a1a1a" stroke-width="0.25">NAR</text>
<path d="M367.9,74.20 L353.5,65.60" stroke="#1a1a1a" stroke-width="2.1" fill="none"/>
<text transform="translate(367.40,63.85) rotate(-90) scale(0.7,1)" font-family="Liberation Sans, sans-serif" font-weight="bold" font-size="19.3" fill="#1a1a1a" stroke="#1a1a1a" stroke-width="0.5">G</text>
<text transform="translate(376.70,52.17) rotate(-90) scale(1.0,1)" font-family="Liberation Sans, sans-serif" font-weight="bold" font-size="14.2" fill="#1a1a1a" stroke="#1a1a1a" stroke-width="0.2">0</text>
<text transform="translate(367.40,336.85) rotate(-90) scale(0.7,1)" font-family="Liberation Sans, sans-serif" font-weight="bold" font-size="19.3" fill="#1a1a1a" stroke="#1a1a1a" stroke-width="0.5">G</text>
<text transform="translate(377.00,325.90) rotate(-90) scale(0.72,1)" font-family="Liberation Sans, sans-serif" font-weight="bold" font-size="14.5" fill="#1a1a1a" stroke="#1a1a1a" stroke-width="0.25">NAR</text>
<path d="M367.9,303.80 L353.5,295.20" stroke="#1a1a1a" stroke-width="2.1" fill="none"/>
<text transform="translate(367.40,293.45) rotate(-90) scale(0.7,1)" font-family="Liberation Sans, sans-serif" font-weight="bold" font-size="19.3" fill="#1a1a1a" stroke="#1a1a1a" stroke-width="0.5">G</text>
<text transform="translate(376.70,281.77) rotate(-90) scale(1.0,1)" font-family="Liberation Sans, sans-serif" font-weight="bold" font-size="14.2" fill="#1a1a1a" stroke="#1a1a1a" stroke-width="0.2">0</text>
<g fill="#1a1a1a" font-family="Liberation Sans, sans-serif" font-size="11.5">
<text x="608" y="15.6" text-anchor="end">1</text>
<text x="608" y="45.2" text-anchor="end">0.5</text>
<text x="608" y="75.2" text-anchor="end">0</text>
<text x="611.5" y="87" text-anchor="middle">-2</text>
<text x="643.3" y="87" text-anchor="middle">0</text>
<text x="674" y="87" text-anchor="middle">2</text>
<text x="627.6" y="103">E</text>
</g>
<path d="M635.3,104.3 L641.5,93.3" stroke="#1a1a1a" stroke-width="1.0" fill="none"/>
<path d="M642.20,103.20 L647.18,93.90 L652.80,103.20 Z M643.61,102.05 L650.70,102.05 L646.94,95.83 Z" fill="#1a1a1a" fill-rule="evenodd"/>
<text x="652.8" y="109.2" font-family="Liberation Sans, sans-serif" font-size="9" fill="#1a1a1a">0</text>
<text transform="translate(581.20,58.80) rotate(-90) scale(0.76,1)" font-family="Liberation Sans, sans-serif" font-weight="normal" font-size="12.9" fill="#1a1a1a" stroke="#1a1a1a" stroke-width="0">G</text>
<text transform="translate(587.50,52.60) rotate(-90) scale(0.76,1)" font-family="Liberation Sans, sans-serif" font-weight="normal" font-size="10.0" fill="#1a1a1a" stroke="#1a1a1a" stroke-width="0.3">AR</text>
<path d="M580.9,42.6 L571.7,36.0" stroke="#1a1a1a" stroke-width="1.1" fill="none"/>
<text transform="translate(581.20,36.10) rotate(-90) scale(0.76,1)" font-family="Liberation Sans, sans-serif" font-weight="normal" font-size="12.9" fill="#1a1a1a" stroke="#1a1a1a" stroke-width="0">G</text>
<text transform="translate(587.40,29.08) rotate(-90) scale(1.0,1)" font-family="Liberation Sans, sans-serif" font-weight="normal" font-size="9.6" fill="#1a1a1a" stroke="#1a1a1a" stroke-width="0.1">0</text>
<path d="M598.3,230.2 H618.4" stroke="#000000" stroke-width="2.75"/>
<path d="M598.3,256.1 H618.2" stroke="#FF00FF" stroke-width="2.75" stroke-dasharray="10.5 9.5"/>
<path d="M598.3,282.0 H618.4" stroke="#00F000" stroke-width="2.75" stroke-dasharray="2.75 2.35"/>
<path d="M598.3,307.8 H618.0" stroke="#A43CFF" stroke-width="2.75" stroke-dasharray="10 2.9 4.6 2.9"/>
<text x="620.3" y="232.60" font-family="Liberation Sans, sans-serif" font-weight="bold" font-size="14.2" fill="#000">h</text>
<text x="629.0" y="241.00" font-family="Liberation Sans, sans-serif" font-weight="bold" font-size="12.4" fill="#000">m</text>
<text x="640.4" y="232.60" font-family="Liberation Sans, sans-serif" font-weight="bold" font-size="14.2" fill="#000">=0</text>
<text x="620.3" y="258.50" font-family="Liberation Sans, sans-serif" font-weight="bold" font-size="14.2" fill="#000">h</text>
<text x="629.0" y="266.90" font-family="Liberation Sans, sans-serif" font-weight="bold" font-size="12.4" fill="#000">m</text>
<text x="640.4" y="258.50" font-family="Liberation Sans, sans-serif" font-weight="bold" font-size="14.2" fill="#000">=2</text>
<path d="M657.90,258.50 L663.82,248.00 L670.50,258.50 Z M659.52,257.35 L667.87,257.35 L663.45,250.39 Z" fill="#000" fill-rule="evenodd"/>
<text x="671.3" y="267.00" font-family="Liberation Sans, sans-serif" font-weight="bold" font-size="12.4" fill="#000">0</text>
<text x="620.3" y="284.40" font-family="Liberation Sans, sans-serif" font-weight="bold" font-size="14.2" fill="#000">h</text>
<text x="629.0" y="292.80" font-family="Liberation Sans, sans-serif" font-weight="bold" font-size="12.4" fill="#000">m</text>
<text x="640.4" y="284.40" font-family="Liberation Sans, sans-serif" font-weight="bold" font-size="14.2" fill="#000">=4</text>
<path d="M657.90,284.40 L663.82,273.90 L670.50,284.40 Z M659.52,283.25 L667.87,283.25 L663.45,276.29 Z" fill="#000" fill-rule="evenodd"/>
<text x="671.3" y="292.90" font-family="Liberation Sans, sans-serif" font-weight="bold" font-size="12.4" fill="#000">0</text>
<text x="620.3" y="310.20" font-family="Liberation Sans, sans-serif" font-weight="bold" font-size="14.2" fill="#000">h</text>
<text x="629.0" y="318.60" font-family="Liberation Sans, sans-serif" font-weight="bold" font-size="12.4" fill="#000">m</text>
<text x="640.4" y="310.20" font-family="Liberation Sans, sans-serif" font-weight="bold" font-size="14.2" fill="#000">=6</text>
<path d="M657.90,310.20 L663.82,299.70 L670.50,310.20 Z M659.52,309.05 L667.87,309.05 L663.45,302.09 Z" fill="#000" fill-rule="evenodd"/>
<text x="671.3" y="318.70" font-family="Liberation Sans, sans-serif" font-weight="bold" font-size="12.4" fill="#000">0</text>
</svg>
</body>
</html>
